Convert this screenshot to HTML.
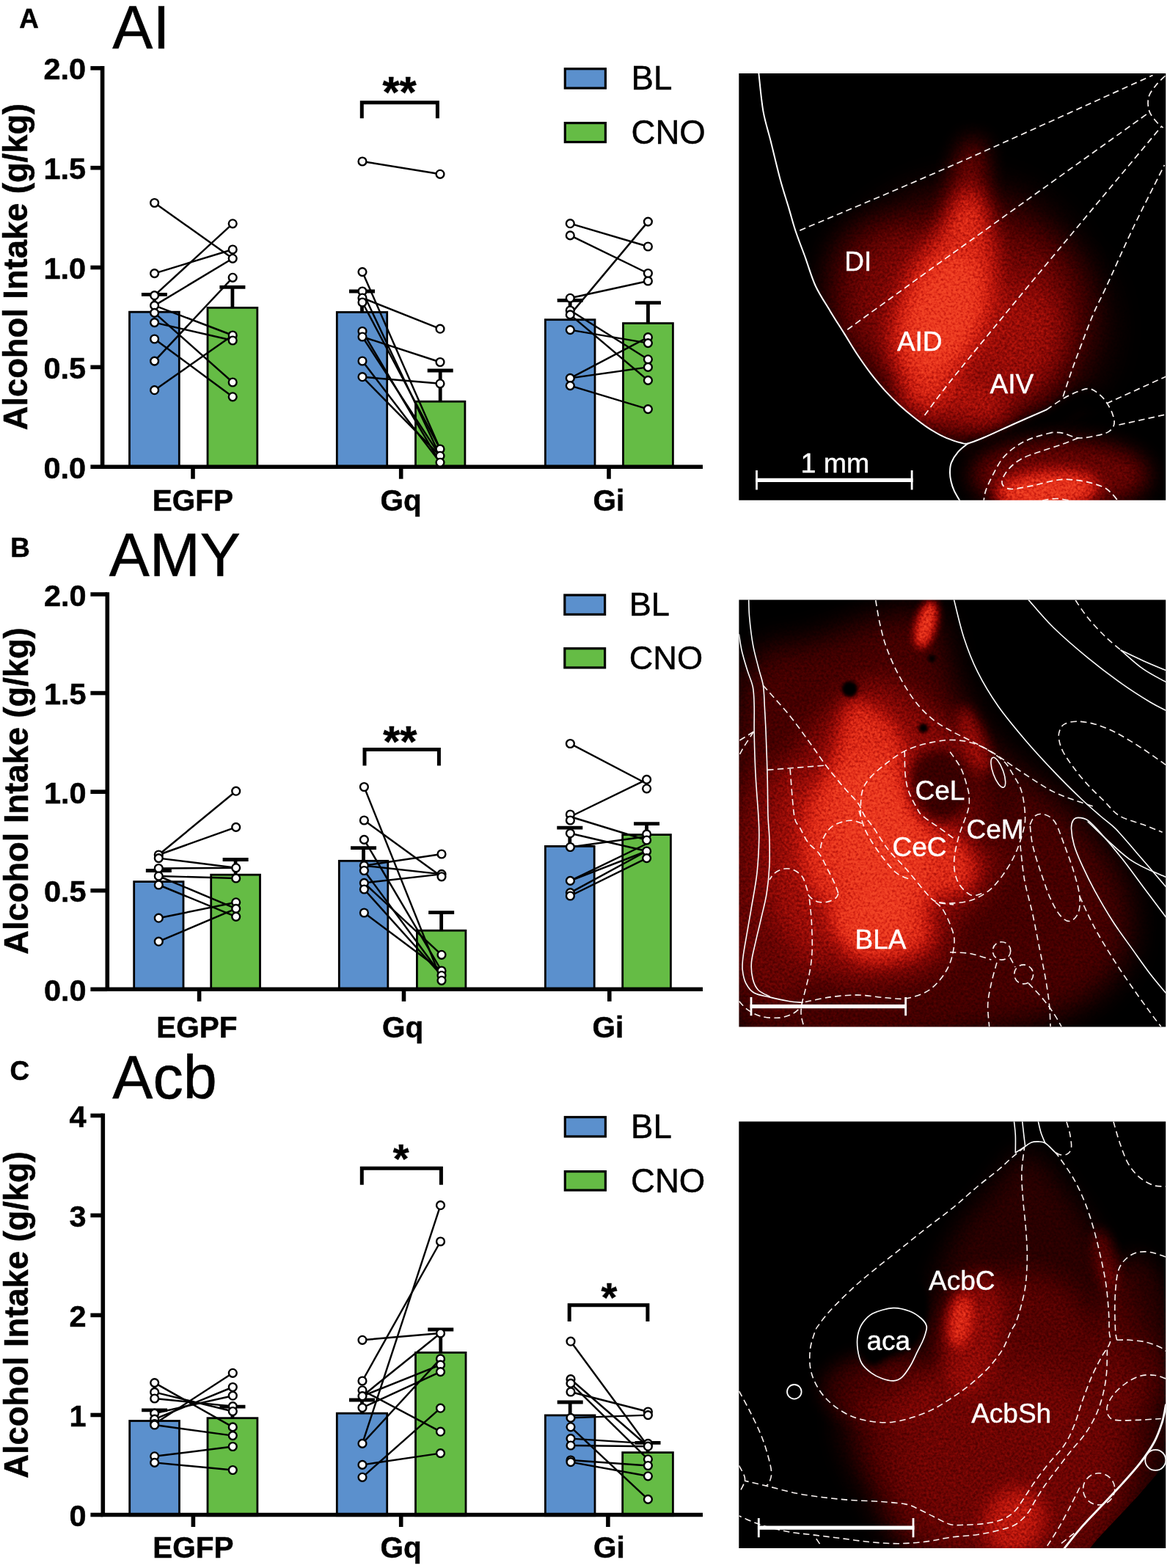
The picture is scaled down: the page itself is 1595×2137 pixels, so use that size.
<!DOCTYPE html>
<html lang="en"><head><meta charset="utf-8"><title>Figure</title>
<style>
html,body{margin:0;padding:0;background:#fff;}
body{width:1595px;height:2137px;overflow:hidden;}
svg{display:block;}
text{font-kerning:normal;}
</style></head><body>
<svg width="1595" height="2137" viewBox="0 0 1595 2137">
<rect width="1595" height="2137" fill="#fff"/>
<defs>
<filter id="bl2" x="-100%" y="-100%" width="300%" height="300%" color-interpolation-filters="sRGB"><feGaussianBlur stdDeviation="2"/></filter>
<filter id="bl4" x="-100%" y="-100%" width="300%" height="300%" color-interpolation-filters="sRGB"><feGaussianBlur stdDeviation="4"/></filter>
<filter id="bl6" x="-100%" y="-100%" width="300%" height="300%" color-interpolation-filters="sRGB"><feGaussianBlur stdDeviation="6"/></filter>
<filter id="bl8" x="-100%" y="-100%" width="300%" height="300%" color-interpolation-filters="sRGB"><feGaussianBlur stdDeviation="8"/></filter>
<filter id="bl10" x="-100%" y="-100%" width="300%" height="300%" color-interpolation-filters="sRGB"><feGaussianBlur stdDeviation="10"/></filter>
<filter id="bl12" x="-100%" y="-100%" width="300%" height="300%" color-interpolation-filters="sRGB"><feGaussianBlur stdDeviation="12"/></filter>
<filter id="bl15" x="-100%" y="-100%" width="300%" height="300%" color-interpolation-filters="sRGB"><feGaussianBlur stdDeviation="15"/></filter>
<filter id="bl18" x="-100%" y="-100%" width="300%" height="300%" color-interpolation-filters="sRGB"><feGaussianBlur stdDeviation="18"/></filter>
<filter id="bl22" x="-100%" y="-100%" width="300%" height="300%" color-interpolation-filters="sRGB"><feGaussianBlur stdDeviation="22"/></filter>
<filter id="bl26" x="-100%" y="-100%" width="300%" height="300%" color-interpolation-filters="sRGB"><feGaussianBlur stdDeviation="26"/></filter>
<filter id="bl30" x="-100%" y="-100%" width="300%" height="300%" color-interpolation-filters="sRGB"><feGaussianBlur stdDeviation="30"/></filter>
<filter id="cmap" x="0" y="0" width="100%" height="100%" color-interpolation-filters="sRGB">
<feTurbulence type="fractalNoise" baseFrequency="0.3" numOctaves="2" seed="7" result="n"/>
<feColorMatrix in="n" type="matrix" values="1.6 0 0 0 -0.3  1.6 0 0 0 -0.3  1.6 0 0 0 -0.3  0 0 0 0 1" result="na"/>
<feColorMatrix in="SourceGraphic" type="matrix" values="1 0 0 0 0  1 0 0 0 0  1 0 0 0 0  0 0 0 0 1" result="g"/>
<feComposite in="g" in2="na" operator="arithmetic" k1="0.6" k2="0.7" k3="0" k4="0" result="gg"/>
<feComponentTransfer in="gg">
<feFuncR type="table" tableValues="0 0.27 0.52 0.74 0.89 0.95"/>
<feFuncG type="table" tableValues="0 0.00 0.03 0.09 0.18 0.27"/>
<feFuncB type="table" tableValues="0 0.00 0.02 0.05 0.10 0.15"/>
<feFuncA type="linear" slope="0" intercept="1"/>
</feComponentTransfer>
</filter>
<clipPath id="cA"><rect x="1007.3" y="100" width="581.9" height="581.7"/></clipPath>
<clipPath id="cB"><rect x="1007.4" y="817.6" width="581.8" height="581.8"/></clipPath>
<clipPath id="cC"><rect x="1007.3" y="1528.6" width="581.9" height="581.4"/></clipPath>
<clipPath id="tA"><path d="M1034.4 100.3C1035.4 108.8 1037.7 136 1040.4 151.4C1043.1 166.8 1046.9 177.1 1050.8 192.8C1054.7 208.5 1059.8 230.4 1063.9 245.5C1068 260.6 1071.8 271.5 1075.2 283.1C1078.7 294.7 1080.8 303.7 1084.6 315C1088.4 326.3 1093.2 338.3 1097.8 350.8C1102.3 363.3 1106.2 377.8 1111.9 390C1117.6 402.2 1125.3 413.2 1131.7 423.9C1138.1 434.5 1144.2 443.9 1150.5 453.9C1156.8 463.9 1163 474.6 1169.3 484C1175.6 493.4 1181.8 502.2 1188.1 510.4C1194.4 518.5 1200.6 526 1206.9 532.9C1213.2 539.8 1219.4 545.9 1225.7 551.7C1232 557.5 1238.2 562.7 1244.5 567.7C1250.8 572.7 1257 577.6 1263.3 581.8C1269.6 586 1276 590 1282.1 593.1C1288.2 596.2 1295.3 598.9 1300 600.6C1304.7 602.3 1306.8 602.9 1310 603.5C1313.2 604.1 1320 602.4 1319.4 604.4C1318.8 606.4 1310 611.3 1306.3 615.7C1302.5 620.1 1298.8 626 1296.9 630.7C1295 635.4 1295.1 639.7 1295 643.9C1294.9 648.1 1295.6 651.9 1296.5 656C1297.4 660.1 1298.6 664 1300.6 668.3C1302.5 672.6 1306.9 679.7 1308.2 682L1600 690 L1600 90 Z"/></clipPath>
<clipPath id="tC"><path d="M1000 1520 L1600 1520 L1600 1925 L1611.3 1930.7 L1606.6 1953.3 L1595.4 1981.5 L1576.5 2009.7 L1552.1 2037.9 L1523.9 2068 L1495.7 2098.1 L1473.1 2126 L1000 2120 Z"/></clipPath>
</defs>
<g clip-path="url(#cA)">
<g filter="url(#cmap)"><rect x="1000" y="95" width="600" height="595" fill="#000"/>
<g clip-path="url(#tA)">
<ellipse cx="1306.5" cy="421.1" rx="164.2" ry="153.3" fill="#fff" opacity="0.25" filter="url(#bl30)" transform="rotate(-30 1306.5 421.1)"/>
<ellipse cx="1408.7" cy="446.6" rx="94.9" ry="109.5" fill="#fff" opacity="0.15" filter="url(#bl30)"/>
<ellipse cx="1319.3" cy="256.9" rx="23.7" ry="69.3" fill="#fff" opacity="0.3" filter="url(#bl15)" transform="rotate(8 1319.3 256.9)"/>
<ellipse cx="1211.6" cy="391.9" rx="80.3" ry="94.9" fill="#fff" opacity="0.15" filter="url(#bl22)" transform="rotate(-30 1211.6 391.9)"/>
<ellipse cx="1372.2" cy="483.1" rx="73" ry="94.9" fill="#fff" opacity="0.18" filter="url(#bl18)" transform="rotate(30 1372.2 483.1)"/>
<path d="M1328.4 260.6C1335.4 264.8 1343.6 284.9 1348.5 304.3C1353.3 323.8 1359.1 353.6 1357.6 377.3C1356.1 401 1347.3 426 1339.4 446.6C1331.4 467.3 1321.1 483.7 1310.2 501.4C1299.2 519 1285.8 547 1273.7 552.5C1261.5 557.9 1246.9 545.8 1237.2 534.2C1227.5 522.7 1218 500.8 1215.3 483.1C1212.6 465.5 1216.5 446.6 1220.8 428.4C1225 410.2 1231.4 391.9 1240.8 373.7C1250.3 355.4 1266.4 334.7 1277.3 318.9C1288.3 303.1 1298 288.5 1306.5 278.8C1315 269.1 1321.4 256.3 1328.4 260.6Z" fill="#fff" opacity="0.62" filter="url(#bl15)"/>
<ellipse cx="1286.4" cy="428.4" rx="42" ry="83.9" fill="#fff" opacity="0.62" filter="url(#bl12)" transform="rotate(20 1286.4 428.4)"/>
<ellipse cx="1299.2" cy="556.1" rx="80.3" ry="36.5" fill="#fff" opacity="0.3" filter="url(#bl15)" transform="rotate(10 1299.2 556.1)"/>
<path d="M1319.4 604.4C1323.2 603 1332 600.2 1342 596C1352 591.8 1365.5 585.3 1379.6 579C1393.7 572.7 1414.8 564.4 1426.7 558.3C1438.6 552.2 1443.3 546.7 1451.1 542.3C1458.9 537.9 1465.5 532.4 1473.7 532C1481.9 531.6 1495.6 538.7 1500 540" fill="none" stroke="#000" stroke-width="26" opacity="0.9" filter="url(#bl6)" transform="translate(4 13)"/>
<ellipse cx="1445.2" cy="647.3" rx="120.4" ry="47.4" fill="#fff" opacity="0.3" filter="url(#bl15)"/>
<ellipse cx="1426.9" cy="669.2" rx="69.3" ry="25.5" fill="#fff" opacity="0.8" filter="url(#bl10)" transform="rotate(-5 1426.9 669.2)"/>
</g></g>
<path d="M1034.4 100.3C1035.4 108.8 1037.7 136 1040.4 151.4C1043.1 166.8 1046.9 177.1 1050.8 192.8C1054.7 208.5 1059.8 230.4 1063.9 245.5C1068 260.6 1071.8 271.5 1075.2 283.1C1078.7 294.7 1080.8 303.7 1084.6 315C1088.4 326.3 1093.2 338.3 1097.8 350.8C1102.3 363.3 1106.2 377.8 1111.9 390C1117.6 402.2 1125.3 413.2 1131.7 423.9C1138.1 434.5 1144.2 443.9 1150.5 453.9C1156.8 463.9 1163 474.6 1169.3 484C1175.6 493.4 1181.8 502.2 1188.1 510.4C1194.4 518.5 1200.6 526 1206.9 532.9C1213.2 539.8 1219.4 545.9 1225.7 551.7C1232 557.5 1238.2 562.7 1244.5 567.7C1250.8 572.7 1257 577.6 1263.3 581.8C1269.6 586 1276 590 1282.1 593.1C1288.2 596.2 1295.3 598.9 1300 600.6C1304.7 602.3 1306.8 602.9 1310 603.5C1313.2 604.1 1314.1 605.6 1319.4 604.4C1324.7 603.1 1332 600.2 1342 596C1352 591.8 1365.5 585.3 1379.6 579C1393.7 572.7 1418.8 561.8 1426.7 558.3" fill="none" stroke="#fff" stroke-width="2" stroke-linecap="round"/>
<path d="M1319.4 604.4C1317.2 606.3 1310 611.3 1306.3 615.7C1302.5 620.1 1298.8 626 1296.9 630.7C1295 635.4 1295.1 639.7 1295 643.9C1294.9 648.1 1295.6 651.9 1296.5 656C1297.4 660.1 1298.6 664 1300.6 668.3C1302.5 672.6 1306.9 679.7 1308.2 682" fill="none" stroke="#fff" stroke-width="2" stroke-linecap="round"/>
<path d="M1090.3 314.1C1125.2 299.2 1219.5 260.1 1299.7 224.8C1379.9 189.5 1526.2 122.9 1571.5 102.5" fill="none" stroke="#fbf4f2" stroke-width="1.7" stroke-dasharray="8.5 5.2"/>
<path d="M1155.2 449.2C1168.8 439.3 1213.7 406.9 1237 390C1260.3 373.1 1239.9 387.6 1295 348C1350.1 308.4 1522.2 185 1567.7 152.4" fill="none" stroke="#fbf4f2" stroke-width="1.7" stroke-dasharray="8.5 5.2"/>
<path d="M1260.5 565.9C1267.1 557.3 1276.8 543 1300 514.1C1323.2 485.2 1352.3 449.7 1399.4 392.8C1446.5 335.9 1552.2 209.6 1582.8 173" fill="none" stroke="#fbf4f2" stroke-width="1.7" stroke-dasharray="8.5 5.2"/>
<path d="M1449.2 540.5C1451.1 534.9 1456.4 518.2 1460.5 506.6C1464.6 495 1468.7 484.1 1473.7 470.9C1478.7 457.7 1484.8 441.1 1490.6 427.6C1496.4 414.1 1499.4 409.6 1508.5 390C1517.6 370.4 1531.8 337.5 1545 310C1558.2 282.5 1580.4 239 1587.5 224.8" fill="none" stroke="#fbf4f2" stroke-width="1.7" stroke-dasharray="8.5 5.2"/>
<path d="M1588.4 103.5C1586.3 105.6 1579.8 111.2 1576 116C1572.2 120.8 1567.3 126.7 1565.8 132.6C1564.3 138.5 1564.9 145.8 1566.8 151.4C1568.7 157.1 1573.9 162.7 1577 166.5C1580.1 170.3 1584.2 172.8 1585.6 174" fill="none" stroke="#fbf4f2" stroke-width="1.7" stroke-dasharray="8.5 5.2"/>
<path d="M1426.7 558.3C1430.8 555.6 1443.3 546.7 1451.1 542.3C1458.9 537.9 1467.8 534 1473.7 532C1479.7 530 1482.4 529 1486.8 530.1C1491.2 531.2 1496.2 535.3 1500 538.6C1503.8 541.9 1506.6 545.5 1509.4 549.9C1512.2 554.3 1515.3 560.2 1516.9 564.9C1518.5 569.6 1519.7 574.2 1518.8 578.1C1517.9 582 1515.7 585.7 1511.3 588.4C1506.9 591.1 1499.4 592.7 1492.5 594.1C1485.6 595.5 1477.1 597.5 1469.9 596.9C1462.7 596.3 1455.2 591.5 1449.2 590.3C1443.2 589 1436.7 589.5 1434.2 589.4" fill="none" stroke="#fbf4f2" stroke-width="1.7" stroke-dasharray="8.5 5.2"/>
<path d="M1508.5 549.9 L1589.3 513.2" fill="none" stroke="#fbf4f2" stroke-width="1.7" stroke-dasharray="8.5 5.2"/>
<path d="M1525.4 579 L1589.3 564.9" fill="none" stroke="#fbf4f2" stroke-width="1.7" stroke-dasharray="8.5 5.2"/>
<path d="M1434.2 589.4C1429.8 590.6 1416 593.8 1407.8 596.9C1399.6 600 1392.2 603.5 1385.3 608.2C1378.4 612.9 1371.8 618.5 1366.5 625.1C1361.2 631.7 1357.1 640.5 1353.3 647.7C1349.5 654.9 1345.9 662.7 1343.9 668.4C1341.9 674.1 1341.6 679.7 1341.1 682" fill="none" stroke="#fbf4f2" stroke-width="1.7" stroke-dasharray="8.5 5.2"/>
<path d="M1469.9 596.9C1465.8 598.5 1454.3 603.2 1445.5 606.3C1436.7 609.4 1426 612.6 1417.2 615.7C1408.4 618.8 1399.7 621.3 1392.8 625.1C1385.9 628.9 1380.3 633.6 1375.9 638.3C1371.5 643 1367.8 649.2 1366.5 653.3C1365.2 657.4 1366.1 660.5 1368.3 662.7C1370.5 664.9 1373 666.6 1379.6 666.5C1386.2 666.4 1398.4 663.7 1407.8 661.8C1417.2 659.9 1428.2 656.6 1436.1 655.2C1443.9 653.8 1447.1 653 1454.9 653.3C1462.7 653.6 1474.6 655.2 1483.1 657.1C1491.5 659 1500 661.8 1505.6 664.6C1511.2 667.4 1513.9 671.1 1516.9 674C1519.9 676.9 1522.4 680.7 1523.5 682" fill="none" stroke="#fbf4f2" stroke-width="1.7" stroke-dasharray="8.5 5.2"/>
<path d="M1421 682C1424.2 681.6 1434 679.5 1440 679.5C1446 679.5 1454.2 681.6 1457 682" fill="none" stroke="#fbf4f2" stroke-width="1.7" stroke-dasharray="8.5 5.2"/>
<text x="1151.3" y="368.6" fill="#fff" stroke="#fff" stroke-width="0.4" font-family="'Liberation Sans', sans-serif" font-size="37">DI</text>
<text x="1222.9" y="478.4" fill="#fff" stroke="#fff" stroke-width="0.4" font-family="'Liberation Sans', sans-serif" font-size="37">AID</text>
<text x="1349.5" y="535.8" fill="#fff" stroke="#fff" stroke-width="0.4" font-family="'Liberation Sans', sans-serif" font-size="37">AIV</text>
<text x="1091.5" y="643.9" fill="#fff" stroke="#fff" stroke-width="0.4" font-family="'Liberation Sans', sans-serif" font-size="37.5">1 mm</text>
<path d="M1030.1 654.4 H1244.5" stroke="#fff" stroke-width="5.3"/><path d="M1031.5 641.1 V667.4 M1243.1 641.1 V667.4" stroke="#fff" stroke-width="2.8"/>
</g>
<g clip-path="url(#cB)">
<g filter="url(#cmap)"><rect x="1000" y="810" width="600" height="595" fill="#000"/>
<path d="M1007 945.7C1025.2 857.8 1073.9 891 1116.5 872.7C1159 854.5 1232 827.1 1262.4 836.2C1292.8 845.4 1283.7 897.1 1298.9 927.5C1314.1 957.9 1326.3 988.3 1353.6 1018.7C1381 1049.1 1432.7 1076.5 1463.1 1109.9C1493.5 1143.4 1527 1182.9 1536.1 1219.4C1545.2 1255.9 1545.2 1298.7 1517.8 1328.8C1490.5 1358.9 1457 1388.1 1371.9 1400C1286.7 1411.9 1067.8 1475.7 1007 1400C946.2 1324.3 988.8 1033.6 1007 945.7Z" fill="#fff" opacity="0.2" filter="url(#bl22)"/>
<ellipse cx="1061.7" cy="1201.1" rx="73" ry="164.2" fill="#fff" opacity="0.12" filter="url(#bl15)"/>
<path d="M1061.7 1073.4C1075.7 1041.2 1104.9 995.6 1127.4 971.3C1149.9 946.9 1174.2 928.7 1196.7 927.5C1219.2 926.3 1241.7 948.1 1262.4 964C1283.1 979.8 1305 998 1320.8 1022.3C1336.6 1046.7 1352.4 1080.1 1357.3 1109.9C1362.2 1139.7 1359.7 1176.8 1350 1201.1C1340.3 1225.5 1309.9 1237.6 1298.9 1255.9C1288 1274.1 1298.9 1297.2 1284.3 1310.6C1269.7 1324 1237.5 1333.1 1211.3 1336.1C1185.2 1339.2 1152.3 1342.2 1127.4 1328.8C1102.5 1315.5 1075.7 1283.2 1061.7 1255.9C1047.7 1228.5 1043.5 1195.1 1043.5 1164.6C1043.5 1134.2 1047.7 1105.7 1061.7 1073.4Z" fill="#fff" opacity="0.25" filter="url(#bl18)"/>
<path d="M1163.9 956.7C1174.2 956.7 1199.8 971.3 1211.3 982.2C1222.9 993.1 1230.8 1010.2 1233.2 1022.3C1235.7 1034.5 1224.7 1041.8 1225.9 1055.2C1227.2 1068.6 1233.2 1090.5 1240.5 1102.6C1247.8 1114.8 1258.2 1120.9 1269.7 1128.2C1281.3 1135.5 1300.1 1137.3 1309.9 1146.4C1319.6 1155.5 1326.9 1171.9 1328.1 1182.9C1329.3 1193.8 1324.5 1206 1317.2 1212.1C1309.9 1218.2 1293.4 1215.1 1284.3 1219.4C1275.2 1223.6 1264.9 1228.5 1262.4 1237.6C1260 1246.7 1272.8 1263.8 1269.7 1274.1C1266.7 1284.5 1257.6 1293.6 1244.2 1299.7C1230.8 1305.7 1204.6 1311.8 1189.4 1310.6C1174.2 1309.4 1162.7 1304.5 1153 1292.4C1143.2 1280.2 1138.4 1251 1131.1 1237.6C1123.8 1224.2 1115.3 1224.2 1109.2 1212.1C1103.1 1199.9 1095.8 1184.1 1094.6 1164.6C1093.4 1145.2 1095.2 1116.6 1101.9 1095.3C1108.6 1074 1126.8 1055.8 1134.7 1036.9C1142.6 1018.1 1144.4 995.6 1149.3 982.2C1154.2 968.8 1153.6 956.7 1163.9 956.7Z" fill="#fff" opacity="0.6" filter="url(#bl12)"/>
<ellipse cx="1196.7" cy="1139.1" rx="62" ry="109.5" fill="#fff" opacity="0.5" filter="url(#bl15)" transform="rotate(-10 1196.7 1139.1)"/>
<ellipse cx="1189.4" cy="1255.9" rx="54.7" ry="36.5" fill="#fff" opacity="0.45" filter="url(#bl12)"/>
<ellipse cx="1280.7" cy="1069.8" rx="42" ry="49.3" fill="#000" opacity="0.58" filter="url(#bl8)"/>
<ellipse cx="1346.3" cy="1102.6" rx="32.8" ry="58.4" fill="#000" opacity="0.35" filter="url(#bl12)"/>
<ellipse cx="1262.4" cy="850.8" rx="12.8" ry="32.8" fill="#fff" opacity="0.8" filter="url(#bl6)" transform="rotate(15 1262.4 850.8)"/>
<ellipse cx="1328.1" cy="1007.7" rx="14.6" ry="47.4" fill="#fff" opacity="0.3" filter="url(#bl8)" transform="rotate(-20 1328.1 1007.7)"/>
<ellipse cx="1158.4" cy="939.1" rx="10.9" ry="10.9" fill="#000" opacity="1" filter="url(#bl2)"/>
<ellipse cx="1258.8" cy="992.4" rx="6.6" ry="6.6" fill="#000" opacity="1" filter="url(#bl2)"/>
<ellipse cx="1270.5" cy="897.5" rx="5.1" ry="5.1" fill="#000" opacity="1" filter="url(#bl2)"/>
</g>
<path d="M1007.5 864.7C1008.1 868.5 1009.4 879.1 1011.3 887.2C1013.2 895.4 1016.3 905.5 1018.8 913.6C1021.3 921.8 1024.7 928 1026.3 936.1C1027.9 944.2 1027.9 951.8 1028.2 962.5C1028.5 973.2 1027.9 984.4 1028.2 1000.1C1028.5 1015.8 1029.1 1037.8 1030.1 1056.5C1031 1075.2 1033.1 1097.7 1033.9 1112C1034.7 1126.3 1035.1 1129.7 1034.8 1142.6C1034.5 1155.5 1033.7 1173.9 1032 1189.6C1030.3 1205.3 1026.8 1222.6 1024.4 1236.7C1022.1 1250.8 1019.8 1263.3 1017.9 1274.3C1016 1285.3 1014.2 1294.7 1013.2 1302.5C1012.2 1310.3 1011.6 1315 1012.2 1321.3C1012.8 1327.6 1014.2 1334.8 1016.9 1340.1C1019.6 1345.4 1022.9 1350.2 1028.2 1353.3C1033.5 1356.4 1041.1 1357 1048.9 1358.9C1056.7 1360.8 1067.7 1363.2 1075.2 1364.5C1082.7 1365.8 1090.9 1366.1 1094 1366.4" fill="none" stroke="#fff" stroke-width="1.6" stroke-linecap="round"/>
<path d="M1020.7 817.6C1020.9 821.4 1020.7 830.2 1021.6 840.2C1022.5 850.2 1024.2 866.2 1026.3 877.8C1028.3 889.4 1031.6 900.4 1033.9 909.8C1036.2 919.2 1039 925.5 1040.4 934.3C1041.8 943.1 1041.7 951.5 1042.3 962.5C1042.9 973.5 1043.6 984.4 1044.2 1000.1C1044.8 1015.8 1045.6 1037.8 1046.1 1056.5C1046.6 1075.2 1046.5 1097.7 1047 1112C1047.5 1126.3 1048.6 1131.2 1048.9 1142.6C1049.2 1154 1049.5 1167.7 1048.9 1180.2C1048.3 1192.7 1047 1205.9 1045.1 1217.8C1043.2 1229.7 1040.1 1240.7 1037.6 1251.7C1035.1 1262.7 1032.3 1273.7 1030.1 1283.7C1027.9 1293.7 1025 1303.4 1024.4 1311.9C1023.8 1320.4 1024.7 1328.2 1026.3 1334.5C1027.9 1340.8 1030.1 1345.6 1033.9 1349.5C1037.7 1353.4 1046.4 1356.6 1048.9 1358" fill="none" stroke="#fff" stroke-width="1.6" stroke-linecap="round"/>
<path d="M1300.6 817.6C1302.8 826.1 1308.5 852.1 1313.8 868.4C1319.1 884.7 1324.8 899.7 1332.6 915.4C1340.4 931.1 1349.8 946.8 1360.8 962.5C1371.8 978.2 1385.9 994.8 1398.4 1009.5C1411 1024.2 1423.5 1037.7 1436.1 1050.9C1448.6 1064.1 1463 1078.3 1473.7 1088.5C1484.4 1098.7 1492.2 1105.2 1500 1112C1507.8 1118.8 1512.5 1121.2 1520.7 1129.4C1528.9 1137.6 1537.5 1148.2 1548.9 1161.4C1560.3 1174.6 1582.6 1200.6 1589.3 1208.4" fill="none" stroke="#fff" stroke-width="1.6" stroke-linecap="round"/>
<path d="M1402.2 817.6C1407.8 823.9 1422.6 842.1 1436.1 855.3C1449.6 868.5 1467.4 883.8 1483.1 896.6C1498.8 909.5 1516 922.4 1530.1 932.4C1544.2 942.4 1557.8 950.8 1567.7 956.8C1577.6 962.8 1585.7 966.2 1589.3 968.1" fill="none" stroke="#fff" stroke-width="1.6" stroke-linecap="round"/>
<path d="M1528.2 886.3C1533.2 890.5 1548.1 904.5 1558.3 911.7C1568.5 918.9 1584.1 926.5 1589.3 929.5" fill="none" stroke="#fff" stroke-width="1.6" stroke-linecap="round"/>
<path d="M1528.2 886.3C1533.2 888.6 1548.1 895.8 1558.3 900.4C1568.5 905 1584.1 911.4 1589.3 913.6" fill="none" stroke="#fff" stroke-width="1.6" stroke-linecap="round"/>
<path d="M1589.3 1353.3C1585.7 1348.9 1575.4 1336.9 1567.7 1326.9C1560 1316.9 1551.8 1305 1543.3 1293.1C1534.8 1281.2 1525.4 1268.7 1516.9 1255.5C1508.4 1242.3 1499.4 1226.6 1492.5 1214.1C1485.6 1201.5 1480.3 1190.5 1475.6 1180.2C1470.9 1169.9 1466.8 1160.5 1464.3 1152C1461.8 1143.5 1460.7 1135.1 1460.5 1129.4C1460.3 1123.7 1461.4 1120.5 1463 1118C1464.6 1115.5 1466.6 1114.4 1469.9 1114.4C1473.2 1114.4 1477.8 1114.4 1483.1 1118.2C1488.4 1122 1494.1 1128.2 1501.9 1137C1509.7 1145.8 1520.7 1158.9 1530.1 1170.8C1539.5 1182.7 1548.4 1195.2 1558.3 1208.4C1568.2 1221.6 1584.1 1242.9 1589.3 1249.8" fill="none" stroke="#fff" stroke-width="1.6" stroke-linecap="round"/>
<path d="M1483.1 1120C1492.5 1128.5 1521.8 1158.2 1539.5 1170.8C1557.2 1183.3 1581 1191.2 1589.3 1195.3" fill="none" stroke="#fff" stroke-width="1.6" stroke-linecap="round"/>
<ellipse cx="1360.8" cy="1052.7" rx="7" ry="21.6" fill="none" stroke="#fff" stroke-width="1.6" transform="rotate(-20 1360.8 1052.7)"/>
<path d="M1040.4 934.3C1046.2 940.9 1064.7 960.9 1075.2 973.7C1085.7 986.6 1094.9 999.8 1103.4 1011.4C1111.9 1023 1118.2 1033 1126 1043.3C1133.8 1053.6 1143.3 1064.9 1150.5 1073.4C1157.7 1081.9 1164.6 1087.7 1169.3 1094.1C1174 1100.5 1175 1106.1 1178.7 1112C1182.5 1117.9 1186.5 1121.8 1191.8 1129.4C1197.1 1137 1203.4 1148.6 1210.6 1157.7C1217.8 1166.8 1226.3 1174 1235.1 1184C1243.9 1194 1256.4 1210.3 1263.3 1217.8C1270.2 1225.3 1270.4 1226.6 1276.5 1229.1C1282.6 1231.6 1296.1 1232.3 1300 1232.9" fill="none" stroke="#fbf4f2" stroke-width="1.6" stroke-dasharray="8.5 5.2"/>
<path d="M1171.1 1105C1172.7 1109.7 1175.8 1123.5 1180.5 1133.2C1185.2 1142.9 1192.5 1153.9 1199.4 1163.3C1206.3 1172.7 1214.7 1183.6 1221.9 1189.6C1229.1 1195.5 1239.1 1197.4 1242.6 1199" fill="none" stroke="#fbf4f2" stroke-width="1.6" stroke-dasharray="8.5 5.2"/>
<path d="M1193.7 818C1194.7 823.3 1196.9 838.7 1199.4 849.6C1201.9 860.5 1204.4 871.6 1208.8 883.5C1213.2 895.4 1219.1 908.9 1225.7 921.1C1232.3 933.3 1240.5 946.8 1248.3 956.8C1256.1 966.8 1264.3 974.5 1272.7 981.3C1281.1 988 1290.4 992.6 1298.8 997.3C1307.2 1002 1314.4 1005 1323.2 1009.5C1332 1014 1342 1018.9 1351.4 1024.5C1360.8 1030.1 1370.2 1037 1379.6 1043.3C1389 1049.6 1398.4 1056.1 1407.8 1062.1C1417.2 1068.1 1426.7 1074.4 1436.1 1079.1C1445.5 1083.8 1454.9 1086.9 1464.3 1090.3C1473.7 1093.7 1487.8 1098.1 1492.5 1099.7" fill="none" stroke="#fbf4f2" stroke-width="1.6" stroke-dasharray="8.5 5.2"/>
<path d="M1046.1 1049.4 L1126 1043" fill="none" stroke="#fbf4f2" stroke-width="1.6" stroke-dasharray="8.5 5.2"/>
<path d="M1077.1 1048C1078 1058.7 1080.6 1098.7 1082.8 1112C1085 1125.3 1087.2 1121.5 1090.3 1127.6C1093.4 1133.6 1097.2 1142.3 1101.6 1148.3C1106 1154.2 1112.2 1157.3 1116.6 1163.3C1121 1169.2 1124.5 1177.4 1127.9 1184C1131.4 1190.6 1134.8 1197.2 1137.3 1202.8C1139.8 1208.4 1142 1215.3 1142.9 1217.8" fill="none" stroke="#fbf4f2" stroke-width="1.6" stroke-dasharray="8.5 5.2"/>
<path d="M1338.3 1217.8C1335.8 1218.1 1328.5 1222.2 1323.2 1219.7C1317.9 1217.2 1310.1 1210 1306.3 1202.8C1302.5 1195.6 1300.6 1186.5 1300.6 1176.5C1300.6 1166.5 1303.2 1154.5 1306.3 1142.6C1309.4 1130.7 1316.9 1113.8 1319.4 1105C1321.9 1096.2 1321.3 1095 1321.3 1090C1321.3 1085 1321.3 1082.5 1319.4 1075.3C1317.5 1068.1 1314.1 1055.6 1310 1047.1C1305.9 1038.6 1297.5 1028.3 1295 1024.5" fill="none" stroke="#fbf4f2" stroke-width="1.6" stroke-dasharray="8.5 5.2"/>
<path d="M1173 1112C1173.3 1106.8 1173 1089.3 1174.9 1081C1176.8 1072.7 1179 1068.7 1184.3 1062.1C1189.6 1055.5 1198.8 1047.9 1206.9 1041.5C1215.1 1035.1 1223.8 1028.3 1233.2 1023.6C1242.6 1018.9 1252.4 1015.7 1263.3 1013.2C1274.2 1010.7 1287.2 1008.2 1298.8 1008.5C1310.3 1008.8 1321.3 1010.6 1332.6 1015.1C1343.9 1019.6 1358.3 1028.9 1366.5 1035.8C1374.7 1042.7 1377.1 1049.3 1381.5 1056.5C1385.9 1063.7 1390.1 1069.8 1392.8 1079.1C1395.5 1088.3 1397.2 1103 1397.5 1112C1397.8 1121 1397 1124.3 1394.7 1133.2C1392.4 1142.1 1388.1 1155.2 1383.4 1165.2C1378.7 1175.2 1372.5 1185.2 1366.5 1193.4C1360.5 1201.6 1354.9 1208.5 1347.7 1214.1C1340.5 1219.7 1332 1224.4 1323.2 1227.2C1314.4 1230 1303.1 1230.7 1295 1231C1286.9 1231.3 1278 1229.4 1274.6 1229.1" fill="none" stroke="#fbf4f2" stroke-width="1.6" stroke-dasharray="8.5 5.2"/>
<path d="M1233.2 1023.6C1233.4 1029.1 1233.2 1047.2 1234.2 1056.5C1235.2 1065.8 1236.2 1071.6 1238.9 1079.1C1241.6 1086.6 1247 1096.1 1250.1 1101.6C1253.2 1107.1 1252.4 1107.4 1257.7 1112C1263 1116.6 1275 1124.3 1282.1 1129.4C1289.1 1134.5 1297 1140.4 1300 1142.6" fill="none" stroke="#fbf4f2" stroke-width="1.6" stroke-dasharray="8.5 5.2"/>
<path d="M1027.3 997.3 L1007.5 1009.5" fill="none" stroke="#fbf4f2" stroke-width="1.6" stroke-dasharray="8.5 5.2"/>
<path d="M1027.3 997.3C1025.1 1000.8 1017.3 1012.5 1014 1018C1010.7 1023.5 1008.6 1028 1007.5 1030" fill="none" stroke="#fbf4f2" stroke-width="1.6" stroke-dasharray="8.5 5.2"/>
<path d="M1174.9 1121.9C1172.1 1121.3 1164.6 1117.6 1158 1118.2C1151.4 1118.8 1141.4 1121.6 1135.4 1125.7C1129.4 1129.8 1125.2 1136.6 1122.2 1142.6C1119.2 1148.5 1118.3 1158.3 1117.5 1161.4" fill="none" stroke="#fbf4f2" stroke-width="1.6" stroke-dasharray="8.5 5.2"/>
<path d="M1142.9 1217.8C1142.3 1218.8 1141.7 1222.1 1139.2 1224C1136.7 1225.9 1132 1228.2 1127.9 1229.1C1123.8 1229.9 1118.8 1230.3 1114.7 1229.1C1110.6 1227.8 1105.9 1224.7 1103.4 1221.6C1100.9 1218.5 1101.3 1214.7 1099.7 1210.3C1098.1 1205.9 1096.8 1199.4 1094 1195.3C1091.2 1191.2 1086.9 1187.8 1082.8 1185.9C1078.7 1184 1074 1183.4 1069.6 1184C1065.2 1184.6 1059.9 1187.1 1056.4 1189.6C1053 1192.1 1050.2 1197.4 1048.9 1199" fill="none" stroke="#fbf4f2" stroke-width="1.6" stroke-dasharray="8.5 5.2"/>
<path d="M1103.4 1225.4C1103.9 1230.4 1105.7 1244.2 1106.3 1255.5C1106.9 1266.8 1107.5 1282.1 1107.2 1293.1C1106.9 1304.1 1106 1311.9 1104.4 1321.3C1102.8 1330.7 1099.7 1341.7 1097.8 1349.5C1095.9 1357.3 1094 1362.6 1093.1 1368.3C1092.2 1374 1091.7 1378.2 1092.2 1383.4C1092.7 1388.6 1095.3 1396.7 1095.9 1399.4" fill="none" stroke="#fbf4f2" stroke-width="1.6" stroke-dasharray="8.5 5.2"/>
<path d="M1097.8 1365.5C1103.5 1364.4 1119.8 1360.5 1131.7 1358.9C1143.6 1357.3 1156.8 1355.9 1169.3 1356.1C1181.8 1356.2 1195.9 1359 1206.9 1359.8C1217.9 1360.6 1225.7 1362.2 1235.1 1360.8C1244.5 1359.4 1255.5 1355.8 1263.3 1351.4C1271.1 1347 1276.8 1341.1 1282.1 1334.5C1287.4 1327.9 1292.1 1320.4 1295.3 1311.9C1298.5 1303.4 1300.7 1291.5 1301 1283.7C1301.3 1275.9 1299.7 1272.1 1297.2 1264.9C1294.7 1257.7 1289.7 1246.4 1285.9 1240.4C1282.1 1234.4 1276.5 1231 1274.6 1229.1" fill="none" stroke="#fbf4f2" stroke-width="1.6" stroke-dasharray="8.5 5.2"/>
<path d="M1007.5 1364.5C1009.4 1366.4 1013.8 1372.3 1018.8 1375.8C1023.8 1379.2 1030.4 1383.3 1037.6 1385.2C1044.8 1387.1 1054.9 1387.7 1062.1 1387.1C1069.3 1386.5 1075.9 1384 1080.9 1381.5C1085.9 1379 1090.3 1373.7 1092.2 1372.1" fill="none" stroke="#fbf4f2" stroke-width="1.6" stroke-dasharray="8.5 5.2"/>
<path d="M1466.1 818C1468.9 822 1476.5 834 1483.1 842.1C1489.7 850.2 1498.1 859.1 1505.6 866.5C1513.1 873.9 1524.4 883 1528.2 886.3" fill="none" stroke="#fbf4f2" stroke-width="1.6" stroke-dasharray="8.5 5.2"/>
<path d="M1589.3 1042.4C1584.1 1038.8 1569.7 1028.2 1558.3 1020.8C1546.9 1013.4 1531.7 1003.9 1520.7 998.2C1509.7 992.6 1501.3 989.4 1492.5 986.9C1483.7 984.4 1474.9 983.2 1468 983.2C1461.1 983.2 1455 984.8 1451.1 986.9C1447.2 989 1445.8 992.5 1444.5 996C1443.2 999.5 1442.8 1002.9 1443.6 1007.6C1444.4 1012.4 1445.8 1017.9 1449.2 1024.5C1452.7 1031.1 1458.7 1039.6 1464.3 1047.1C1469.9 1054.6 1476.2 1062.2 1483.1 1069.7C1490 1077.2 1498.4 1085.2 1505.6 1092.2C1512.8 1099.2 1517.5 1106.7 1526.3 1112C1535.1 1117.3 1548.6 1120.1 1558.3 1123.8C1568 1127.5 1580.2 1132.5 1584.6 1134.2" fill="none" stroke="#fbf4f2" stroke-width="1.6" stroke-dasharray="8.5 5.2"/>
<path d="M1390.9 1152C1391.9 1159.8 1393.8 1183.3 1396.6 1199C1399.4 1214.7 1404.4 1230.4 1407.8 1246.1C1411.2 1261.8 1414.4 1279 1417.2 1293.1C1420 1307.2 1422.6 1318.2 1424.8 1330.7C1427 1343.2 1429.2 1356.9 1430.4 1368.3C1431.6 1379.7 1431.7 1393.9 1432 1399" fill="none" stroke="#fbf4f2" stroke-width="1.6" stroke-dasharray="8.5 5.2"/>
<path d="M1404.1 1123.8C1405.2 1121.8 1407.9 1114.3 1411 1112C1414.1 1109.7 1418.4 1108.4 1422.9 1109.7C1427.4 1111 1433.2 1113 1437.9 1120C1442.6 1127 1446.7 1140.4 1451.1 1152C1455.5 1163.6 1460.8 1178 1464.3 1189.6C1467.8 1201.2 1470.9 1212.5 1471.8 1221.6C1472.7 1230.7 1472.1 1238.5 1469.9 1244.2C1467.7 1249.9 1462.7 1254.9 1458.6 1255.5C1454.5 1256.1 1449.9 1252.9 1445.5 1247.9C1441.1 1242.9 1436.7 1235.1 1432.3 1225.4C1427.9 1215.7 1423.2 1201.8 1419.1 1189.6C1415 1177.4 1410.3 1163 1407.8 1152C1405.3 1141 1404.7 1128.5 1404.1 1123.8" fill="none" stroke="#fbf4f2" stroke-width="1.6" stroke-dasharray="8.5 5.2"/>
<path d="M1471.8 1221.6C1475.2 1228.8 1484.3 1249.9 1492.5 1264.9C1500.7 1280 1511.3 1297.2 1520.7 1311.9C1530.1 1326.6 1540.1 1340.8 1548.9 1353.3C1557.7 1365.8 1567.8 1379.5 1573.4 1387.1C1579.1 1394.7 1581.2 1397 1582.8 1399" fill="none" stroke="#fbf4f2" stroke-width="1.6" stroke-dasharray="8.5 5.2"/>
<path d="M1295 1297.8C1299.7 1298.1 1313.8 1298 1323.2 1299.7C1332.6 1301.4 1346.7 1306.7 1351.4 1308.1" fill="none" stroke="#fbf4f2" stroke-width="1.6" stroke-dasharray="8.5 5.2"/>
<path d="M1358.9 1311.9C1357.7 1316.6 1353.4 1330.7 1351.4 1340.1C1349.4 1349.5 1347.2 1358.5 1346.7 1368.3C1346.2 1378.1 1348.3 1393.9 1348.6 1399" fill="none" stroke="#fbf4f2" stroke-width="1.6" stroke-dasharray="8.5 5.2"/>
<path d="M1402.2 1340.1C1405.7 1343.9 1417 1355.5 1422.9 1362.7C1428.9 1369.9 1433.9 1377.4 1437.9 1383.4C1441.9 1389.5 1445.5 1396.4 1447 1399" fill="none" stroke="#fbf4f2" stroke-width="1.6" stroke-dasharray="8.5 5.2"/>
<path d="M1377 1305 L1384 1318" fill="none" stroke="#fbf4f2" stroke-width="1.6" stroke-dasharray="8.5 5.2"/>
<circle cx="1365.5" cy="1295.9" r="12.2" fill="none" stroke="#fbf4f2" stroke-width="1.6" stroke-dasharray="8.5 5.2"/>
<circle cx="1395.6" cy="1327.9" r="13" fill="none" stroke="#fbf4f2" stroke-width="1.6" stroke-dasharray="8.5 5.2"/>
<text x="1247.5" y="1090.3" fill="#fff" stroke="#fff" stroke-width="0.4" font-family="'Liberation Sans', sans-serif" font-size="37">CeL</text>
<text x="1216.5" y="1166.5" fill="#fff" stroke="#fff" stroke-width="0.4" font-family="'Liberation Sans', sans-serif" font-size="37">CeC</text>
<text x="1317.5" y="1142.6" fill="#fff" stroke="#fff" stroke-width="0.4" font-family="'Liberation Sans', sans-serif" font-size="37">CeM</text>
<text x="1165.5" y="1293.1" fill="#fff" stroke="#fff" stroke-width="0.4" font-family="'Liberation Sans', sans-serif" font-size="37">BLA</text>
<path d="M1022.6 1371.7 H1236" stroke="#fff" stroke-width="5.3"/><path d="M1024 1358.9 V1384.3 M1234.6 1358.9 V1384.3" stroke="#fff" stroke-width="2.8"/>
</g>
<g clip-path="url(#cC)">
<g filter="url(#cmap)"><rect x="1000" y="1520" width="600" height="595" fill="#000"/>
<g clip-path="url(#tC)">
<path d="M1401.1 1571.8C1419.3 1574.8 1443.7 1611.3 1463.1 1637.5C1482.6 1663.6 1502.6 1698.3 1517.8 1728.7C1533.1 1759.1 1542.5 1798.6 1554.3 1819.9C1566.2 1841.2 1581.7 1832.1 1589 1856.4C1596.3 1880.7 1610 1920.3 1598.1 1965.9C1586.3 2011.5 1573.8 2102.7 1517.8 2130.1C1461.9 2157.4 1318.4 2145.3 1262.4 2130.1C1206.5 2114.9 1201.6 2069.3 1182.1 2038.8C1162.7 2008.4 1149.3 1975 1145.7 1947.6C1142 1920.3 1149.3 1889.8 1160.3 1874.6C1171.2 1859.4 1194.3 1871.6 1211.3 1856.4C1228.4 1841.2 1247.8 1810.8 1262.4 1783.4C1277 1756.1 1283.7 1719.6 1298.9 1692.2C1314.1 1664.8 1336.6 1639.3 1353.6 1619.2C1370.7 1599.2 1382.8 1568.7 1401.1 1571.8Z" fill="#fff" opacity="0.12" filter="url(#bl18)"/>
<path d="M1335.4 1746.9C1360.9 1731.7 1414.5 1728.7 1444.9 1746.9C1475.3 1765.2 1499.6 1819.9 1517.8 1856.4C1536.1 1892.9 1560.4 1920.3 1554.3 1965.9C1548.3 2011.5 1527 2102.7 1481.4 2130.1C1435.7 2157.4 1328.1 2148.3 1280.7 2130.1C1233.2 2111.8 1213.2 2054.1 1196.7 2020.6C1180.3 1987.2 1174.2 1950.7 1182.1 1929.4C1190.1 1908.1 1225.9 1908.1 1244.2 1892.9C1262.4 1877.7 1276.4 1862.5 1291.6 1838.2C1306.8 1813.8 1309.9 1762.1 1335.4 1746.9Z" fill="#fff" opacity="0.15" filter="url(#bl18)"/>
<ellipse cx="1371.9" cy="1984.1" rx="153.3" ry="127.7" fill="#fff" opacity="0.1" filter="url(#bl26)"/>
<ellipse cx="1547" cy="1819.9" rx="47.4" ry="109.5" fill="#fff" opacity="0.12" filter="url(#bl15)"/>
<ellipse cx="1309.1" cy="1799.8" rx="15.3" ry="36.5" fill="#fff" opacity="0.62" filter="url(#bl8)" transform="rotate(8 1309.1 1799.8)"/>
<ellipse cx="1324.5" cy="1816.3" rx="40.1" ry="83.9" fill="#fff" opacity="0.22" filter="url(#bl12)" transform="rotate(10 1324.5 1816.3)"/>
<ellipse cx="1382.8" cy="2075.3" rx="40.1" ry="47.4" fill="#fff" opacity="0.4" filter="url(#bl12)" transform="rotate(20 1382.8 2075.3)"/>
<ellipse cx="1506.9" cy="1717.7" rx="14.6" ry="43.8" fill="#fff" opacity="0.2" filter="url(#bl8)" transform="rotate(-12 1506.9 1717.7)"/>
<ellipse cx="1198.2" cy="1892.5" rx="80.3" ry="47.4" fill="#fff" opacity="0.12" filter="url(#bl12)"/>
<path d="M1192 1761.9C1199.5 1754.3 1212.7 1750 1223 1747.7C1233.4 1745.3 1247.1 1744.3 1254 1747.7C1261 1751.1 1262.8 1760.5 1264.6 1768.1C1266.4 1775.7 1265.6 1785.3 1264.6 1793.3C1263.6 1801.2 1261.5 1809 1258.4 1815.9C1255.3 1822.8 1253.6 1829 1246 1834.5C1238.4 1840 1221.8 1844.6 1212.8 1849.1C1203.8 1853.6 1197.8 1860.8 1192 1861.5C1186.2 1862.2 1181.5 1858.7 1177.8 1853.1C1174 1847.6 1169.4 1838.3 1169.4 1828.3C1169.4 1818.3 1174 1804.3 1177.8 1793.3C1181.5 1782.2 1184.5 1769.5 1192 1761.9Z" fill="#000" opacity="1" filter="url(#bl4)"/>
</g></g>
<path d="M1589.3 1914.7C1588.5 1918.5 1587.2 1928.8 1584.6 1937.3C1581.9 1945.8 1578.4 1956.1 1573.4 1965.5C1568.4 1974.9 1561.7 1984.3 1554.5 1993.7C1547.3 2003.1 1538.9 2012.2 1530.1 2021.9C1521.3 2031.6 1511.3 2042 1501.9 2052C1492.5 2062 1482.2 2072.4 1473.7 2082.1C1465.2 2091.8 1454.9 2105.3 1451.1 2110" fill="none" stroke="#fff" stroke-width="2.8" stroke-linecap="round"/>
<circle cx="1575.2" cy="1989.9" r="14" fill="none" stroke="#fff" stroke-width="1.8"/>
<circle cx="1082.8" cy="1896.8" r="9.8" fill="none" stroke="#fff" stroke-width="1.8"/>
<path d="M1217.6 1782.6C1225.9 1782.1 1233.6 1784.6 1240 1787C1246.4 1789.4 1252.2 1793.6 1256 1797C1259.8 1800.4 1262.2 1803.8 1263.1 1807.3C1264 1810.8 1262.3 1814.5 1261.4 1818C1260.5 1821.5 1259.6 1823.8 1257.7 1828C1255.8 1832.2 1252.9 1837.5 1250.1 1843.2C1247.3 1848.9 1244.2 1856.3 1240.7 1862C1237.2 1867.7 1233.2 1873.8 1229.4 1877.1C1225.7 1880.4 1222.6 1881.5 1218.2 1881.8C1213.8 1882.1 1208.1 1880.7 1203.1 1879C1198.1 1877.3 1192.8 1874.9 1188.1 1871.4C1183.4 1868 1178 1863.6 1174.9 1858.3C1171.8 1853 1170.2 1845.9 1169.3 1839.5C1168.4 1833.1 1168.2 1826.1 1169.3 1820C1170.4 1813.9 1172.5 1808 1176 1803C1179.5 1798 1183.1 1793.4 1190 1790C1196.9 1786.6 1209.3 1783.1 1217.6 1782.6Z" fill="none" stroke="#fff" stroke-width="1.7" stroke-linecap="round"/>
<path d="M1382.5 1528.6C1382.8 1531.7 1384 1540.5 1384.3 1547.4C1384.6 1554.3 1384.3 1566.2 1384.3 1570" fill="none" stroke="#fff" stroke-width="1.6" stroke-linecap="round"/>
<path d="M1393.7 1528.6C1394 1531.4 1395 1540.1 1395.6 1545.6C1396.2 1551.1 1397.2 1558.9 1397.5 1561.6" fill="none" stroke="#fff" stroke-width="1.6" stroke-linecap="round"/>
<path d="M1415.4 1528.6C1416 1531.1 1417.5 1538.8 1419.1 1543.7C1420.7 1548.6 1423.8 1555.5 1424.8 1557.8" fill="none" stroke="#fff" stroke-width="1.6" stroke-linecap="round"/>
<path d="M1384.3 1571C1386.5 1569.6 1393.9 1564.8 1397.5 1562.5C1401.1 1560.2 1403 1558 1406 1556.9C1409 1555.8 1412.3 1555.8 1415.4 1555.9C1418.5 1556.1 1421 1555.5 1424.8 1557.8C1428.5 1560.1 1435.7 1568 1437.9 1570" fill="none" stroke="#fff" stroke-width="1.6" stroke-linecap="round"/>
<path d="M1396.6 1563.4C1393.8 1565.8 1385.6 1572.3 1379.6 1577.5C1373.6 1582.7 1368.6 1587.9 1360.8 1594.5C1353 1601.1 1342.7 1608.5 1332.6 1617C1322.5 1625.5 1311.5 1635.9 1300 1645.3C1288.5 1654.7 1275.7 1663.8 1263.3 1673.5C1250.9 1683.2 1238.2 1693.6 1225.7 1703.6C1213.2 1713.6 1199.1 1724.5 1188.1 1733.6C1177.1 1742.7 1169.3 1749.3 1159.9 1758.1C1150.5 1766.9 1138.9 1778.5 1131.7 1786.3C1124.5 1794.1 1120 1800.3 1116.6 1805.1C1113.1 1809.9 1113 1809.3 1111 1815C1109 1820.7 1105.4 1830.7 1104.4 1839.5C1103.5 1848.3 1103.3 1858.6 1105.3 1867.7C1107.3 1876.8 1111.6 1886.2 1116.6 1894C1121.6 1901.8 1128.2 1908.8 1135.4 1914.7C1142.6 1920.7 1151.1 1925.9 1159.9 1929.7C1168.7 1933.5 1178.7 1935.9 1188.1 1937.3C1197.5 1938.7 1206.9 1939.2 1216.3 1938.2C1225.7 1937.2 1235.1 1934.6 1244.5 1931.6C1253.9 1928.6 1263.5 1925 1272.7 1920.3C1282 1915.6 1291.6 1909 1300 1903.4C1308.4 1897.8 1315.2 1893.1 1323.2 1886.5C1331.2 1879.9 1340.5 1871.7 1347.7 1863.9C1354.9 1856.1 1361.5 1847.7 1366.5 1839.5C1371.5 1831.3 1374.7 1821.3 1377.8 1815C1380.9 1808.7 1382.8 1807.8 1385.3 1801.4C1387.8 1795.1 1390.6 1785.7 1392.8 1776.9C1395 1768.1 1397.2 1759.7 1398.4 1748.7C1399.7 1737.7 1400.3 1723.6 1400.3 1711.1C1400.3 1698.6 1399.3 1686 1398.4 1673.5C1397.5 1661 1395.6 1648.3 1394.7 1635.8C1393.8 1623.2 1392.5 1610.3 1392.8 1598.2C1393.1 1586.1 1396 1569.2 1396.6 1563.4" fill="none" stroke="#fbf4f2" stroke-width="1.6" stroke-dasharray="8.5 5.2"/>
<path d="M1437.9 1570C1439.2 1571.6 1441.1 1573.1 1445.5 1579.4C1449.9 1585.7 1458.7 1597.6 1464.3 1607.6C1469.9 1617.6 1474.9 1628.6 1479.3 1639.6C1483.7 1650.6 1487.1 1661.6 1490.6 1673.5C1494 1685.4 1497.2 1698.6 1500 1711.1C1502.8 1723.6 1505.6 1736.2 1507.5 1748.7C1509.4 1761.2 1510.5 1775.2 1511.3 1786.3C1512.1 1797.3 1511.9 1807.7 1512.2 1815C1512.5 1822.3 1514.9 1824.3 1513.2 1830C1511.5 1835.7 1506 1841.4 1501.9 1848.9C1497.8 1856.4 1493.1 1865.2 1488.7 1875.2C1484.3 1885.2 1479.7 1897.7 1475.6 1909C1471.5 1920.3 1468.4 1932.9 1464.3 1942.9C1460.2 1952.9 1456.8 1960.7 1451.1 1969.2C1445.4 1977.7 1437 1985.6 1430.4 1993.7C1423.8 2001.8 1417.2 2010.3 1411.6 2018.1C1406 2025.9 1401.3 2033.8 1396.6 2040.7C1391.9 2047.6 1388.4 2054.5 1383.4 2059.5C1378.4 2064.5 1373.4 2068 1366.5 2070.8C1359.6 2073.6 1350.8 2075.2 1342 2076.4C1333.2 2077.7 1321.6 2078.1 1313.8 2078.3C1306 2078.5 1301.8 2079.3 1295 2077.4C1288.2 2075.5 1279.5 2070.3 1272.7 2067C1265.9 2063.7 1260.2 2060.4 1253.9 2057.6C1247.6 2054.8 1244.5 2052 1235.1 2050.1C1225.7 2048.2 1210 2047.2 1197.5 2046.3C1185 2045.4 1172.5 2045.4 1159.9 2044.5C1147.4 2043.6 1134.8 2042.3 1122.2 2040.7C1109.7 2039.1 1097.1 2037.5 1084.6 2035C1072.1 2032.5 1058.6 2028.4 1047 2025.6C1035.4 2022.8 1020.3 2019.3 1015 2018.1" fill="none" stroke="#fbf4f2" stroke-width="1.6" stroke-dasharray="8.5 5.2"/>
<path d="M1509.4 1839.5C1509.2 1844.8 1509.4 1861.4 1508.5 1871.4C1507.6 1881.4 1506.1 1890.2 1503.8 1899.6C1501.5 1909 1498.5 1918.7 1494.4 1927.8C1490.3 1936.9 1485 1946 1479.3 1954.2C1473.6 1962.4 1466.8 1968.9 1460.5 1976.7C1454.2 1984.5 1447.7 1993.4 1441.7 2001.2C1435.8 2009 1429.8 2016.6 1424.8 2023.8C1419.8 2031 1415.7 2037.9 1411.6 2044.5C1407.5 2051.1 1405 2057.7 1400.3 2063.3C1395.6 2068.9 1390 2074.6 1383.4 2078.3C1376.8 2082.1 1369.3 2083.6 1360.8 2085.8C1352.3 2088 1343.5 2089.9 1332.6 2091.5C1321.7 2093.1 1306.8 2093.6 1295.3 2095.2C1283.8 2096.8 1274.9 2099.5 1263.3 2100.9C1251.7 2102.3 1238.2 2103.5 1225.7 2103.7C1213.2 2103.8 1200.6 2102.9 1188.1 2101.8C1175.6 2100.7 1163 2098.7 1150.5 2097.1C1138 2095.5 1125.3 2094 1112.8 2092.4C1100.2 2090.8 1087.7 2090 1075.2 2087.7C1062.7 2085.3 1048.9 2081.9 1037.6 2078.3C1026.3 2074.7 1012.5 2068.1 1007.5 2066.1" fill="none" stroke="#fbf4f2" stroke-width="1.6" stroke-dasharray="8.5 5.2"/>
<path d="M1453.9 1528.6C1454.7 1531.4 1457.5 1539.6 1458.6 1545.6C1459.7 1551.6 1461.1 1559.9 1460.5 1564.4C1459.9 1568.9 1457.4 1571.2 1454.9 1572.8C1452.4 1574.4 1448.3 1574.3 1445.5 1573.8C1442.7 1573.3 1439.2 1570.6 1437.9 1570" fill="none" stroke="#fbf4f2" stroke-width="1.6" stroke-dasharray="8.5 5.2"/>
<path d="M1517.9 1528.6C1519.3 1533.3 1523 1547.5 1526.3 1556.9C1529.6 1566.3 1533.2 1577.3 1537.6 1585.1C1542 1592.9 1547 1598.9 1552.7 1603.9C1558.4 1608.9 1565.5 1613 1571.5 1615.2C1577.5 1617.4 1586.1 1616.7 1589 1617" fill="none" stroke="#fbf4f2" stroke-width="1.6" stroke-dasharray="8.5 5.2"/>
<path d="M1589 1713C1585.5 1711.9 1574.4 1707.4 1567.7 1706.4C1561 1705.5 1554.5 1705.6 1548.9 1707.3C1543.3 1709 1538 1712.6 1533.9 1716.7C1529.8 1720.8 1526.7 1724.9 1524.5 1731.8C1522.3 1738.7 1521.5 1749 1520.7 1758.1C1519.9 1767.2 1519.8 1776.8 1519.8 1786.3C1519.8 1795.8 1520.2 1808.3 1520.7 1815C1521.2 1821.7 1522.3 1824.4 1522.6 1826.3" fill="none" stroke="#fbf4f2" stroke-width="1.6" stroke-dasharray="8.5 5.2"/>
<path d="M1522.6 1826.3C1525.4 1826.3 1532.9 1825.8 1539.5 1826.3C1546.1 1826.8 1555.2 1827.5 1562.1 1829.1C1569 1830.7 1576.4 1833.7 1580.9 1835.7C1585.4 1837.7 1587.9 1840.4 1589.3 1841.3" fill="none" stroke="#fbf4f2" stroke-width="1.6" stroke-dasharray="8.5 5.2"/>
<path d="M1589.3 1878.9C1586.7 1878.1 1579.2 1874.8 1573.4 1874.2C1567.6 1873.6 1560.8 1873.5 1554.5 1875.2C1548.2 1876.9 1541.7 1880.5 1535.7 1884.6C1529.8 1888.7 1523.2 1894.3 1518.8 1899.6C1514.4 1904.9 1510.7 1911.6 1509.4 1916.6C1508.2 1921.6 1509.4 1926.6 1511.3 1929.7C1513.2 1932.8 1514.4 1934.5 1520.7 1935.4C1527 1936.4 1538.6 1935.7 1548.9 1935.4C1559.2 1935.1 1577.2 1933.8 1582.8 1933.5" fill="none" stroke="#fbf4f2" stroke-width="1.6" stroke-dasharray="8.5 5.2"/>
<path d="M1007.5 1895.9C1010 1900.6 1017.6 1914.1 1022.6 1924.1C1027.6 1934.1 1033.5 1946.1 1037.6 1956.1C1041.7 1966.1 1044.7 1975.8 1047 1984.3C1049.3 1992.8 1051.4 2000.8 1051.7 2006.8C1052 2012.8 1050 2017 1048.9 2020C1047.8 2023 1045.7 2023.9 1045.1 2024.7" fill="none" stroke="#fbf4f2" stroke-width="1.6" stroke-dasharray="8.5 5.2"/>
<path d="M1007.5 1997.4C1008.8 1999.9 1013.9 2008.4 1015 2012.5C1016.1 2016.6 1015.4 2018.2 1014.1 2021.9C1012.9 2025.7 1008.6 2032.8 1007.5 2035" fill="none" stroke="#fbf4f2" stroke-width="1.6" stroke-dasharray="8.5 5.2"/>
<path d="M1471.8 2027.5C1469.9 2031.3 1464.9 2041.6 1460.5 2050.1C1456.1 2058.6 1450.5 2069.5 1445.5 2078.3C1440.5 2087.1 1433.9 2097.5 1430.4 2102.8C1427 2108.1 1425.7 2109.1 1424.8 2110.3" fill="none" stroke="#fbf4f2" stroke-width="1.6" stroke-dasharray="8.5 5.2"/>
<path d="M1464.3 2089.6 L1445.5 2104.6" fill="none" stroke="#fbf4f2" stroke-width="1.6" stroke-dasharray="8.5 5.2"/>
<path d="M1112.8 2097.1 L1120.4 2108.4" fill="none" stroke="#fbf4f2" stroke-width="1.6" stroke-dasharray="8.5 5.2"/>
<circle cx="1498.1" cy="2029.4" r="21.6" fill="none" stroke="#fbf4f2" stroke-width="1.6" stroke-dasharray="8.5 5.2"/>
<text x="1266.1" y="1758.1" fill="#fff" stroke="#fff" stroke-width="0.4" font-family="'Liberation Sans', sans-serif" font-size="37">AcbC</text>
<text x="1181.5" y="1839.5" fill="#fff" stroke="#fff" stroke-width="0.4" font-family="'Liberation Sans', sans-serif" font-size="37">aca</text>
<text x="1324.2" y="1939.1" fill="#fff" stroke="#fff" stroke-width="0.4" font-family="'Liberation Sans', sans-serif" font-size="37">AcbSh</text>
<path d="M1032.9 2082.1 H1246.4" stroke="#fff" stroke-width="5.3"/><path d="M1034.3 2068.9 V2095.2 M1245 2068.9 V2095.2" stroke="#fff" stroke-width="2.8"/>
</g>
<rect x="176.5" y="425.2" width="67.8" height="212.2" fill="#5b90cd" stroke="#000" stroke-width="2.8"/>
<rect x="283" y="419.4" width="67.8" height="218" fill="#65bc45" stroke="#000" stroke-width="2.8"/>
<rect x="459.3" y="425.5" width="68.4" height="211.9" fill="#5b90cd" stroke="#000" stroke-width="2.8"/>
<rect x="566.5" y="547.2" width="67.4" height="90.2" fill="#65bc45" stroke="#000" stroke-width="2.8"/>
<rect x="743.4" y="435.7" width="67.6" height="201.7" fill="#5b90cd" stroke="#000" stroke-width="2.8"/>
<rect x="849.5" y="440.6" width="67.9" height="196.8" fill="#65bc45" stroke="#000" stroke-width="2.8"/>
<path d="M210.4 425 V401.4 M192.9 401.4 H227.9" stroke="#000" stroke-width="4.8" fill="none"/>
<path d="M316.9 419.2 V391.4 M299.4 391.4 H334.4" stroke="#000" stroke-width="4.8" fill="none"/>
<path d="M493.5 425.3 V397 M476 397 H511" stroke="#000" stroke-width="4.8" fill="none"/>
<path d="M600.2 547 V505 M582.7 505 H617.7" stroke="#000" stroke-width="4.8" fill="none"/>
<path d="M777.2 435.5 V409.3 M759.7 409.3 H794.7" stroke="#000" stroke-width="4.8" fill="none"/>
<path d="M883.45 440.4 V412.7 M865.95 412.7 H900.95" stroke="#000" stroke-width="4.8" fill="none"/>
<path d="M139.6 90.1 V636.2 H958" stroke="#000" stroke-width="5.6" fill="none" stroke-linejoin="miter"/>
<path d="M123.4 636.2 H139.6" stroke="#000" stroke-width="5.6"/>
<text stroke="#000" stroke-width="0.5" x="117.1" y="651.7" text-anchor="end" font-family="'Liberation Sans', sans-serif" font-weight="700" font-size="41.5">0.0</text>
<path d="M123.4 500.38 H139.6" stroke="#000" stroke-width="5.6"/>
<text stroke="#000" stroke-width="0.5" x="117.1" y="515.88" text-anchor="end" font-family="'Liberation Sans', sans-serif" font-weight="700" font-size="41.5">0.5</text>
<path d="M123.4 364.55 H139.6" stroke="#000" stroke-width="5.6"/>
<text stroke="#000" stroke-width="0.5" x="117.1" y="380.05" text-anchor="end" font-family="'Liberation Sans', sans-serif" font-weight="700" font-size="41.5">1.0</text>
<path d="M123.4 228.73 H139.6" stroke="#000" stroke-width="5.6"/>
<text stroke="#000" stroke-width="0.5" x="117.1" y="244.23" text-anchor="end" font-family="'Liberation Sans', sans-serif" font-weight="700" font-size="41.5">1.5</text>
<path d="M123.4 92.9 H139.6" stroke="#000" stroke-width="5.6"/>
<text stroke="#000" stroke-width="0.5" x="117.1" y="108.4" text-anchor="end" font-family="'Liberation Sans', sans-serif" font-weight="700" font-size="41.5">2.0</text>
<path d="M263 636.2 V652.7" stroke="#000" stroke-width="5.6"/>
<text stroke="#000" stroke-width="0.5" x="263" y="695.5" text-anchor="middle" font-family="'Liberation Sans', sans-serif" font-weight="700" font-size="40.5">EGFP</text>
<path d="M546.7 636.2 V652.7" stroke="#000" stroke-width="5.6"/>
<text stroke="#000" stroke-width="0.5" x="546.7" y="695.5" text-anchor="middle" font-family="'Liberation Sans', sans-serif" font-weight="700" font-size="40.5">Gq</text>
<path d="M830 636.2 V652.7" stroke="#000" stroke-width="5.6"/>
<text stroke="#000" stroke-width="0.5" x="830" y="695.5" text-anchor="middle" font-family="'Liberation Sans', sans-serif" font-weight="700" font-size="40.5">Gi</text>
<path d="M210.6 276.5 L317.2 352.3" stroke="#000" stroke-width="2.45"/>
<path d="M210.6 372.6 L317.2 340" stroke="#000" stroke-width="2.45"/>
<path d="M210.6 402.7 L317.2 304.8" stroke="#000" stroke-width="2.45"/>
<path d="M210.6 416.4 L317.2 352.3" stroke="#000" stroke-width="2.45"/>
<path d="M210.6 416.4 L317.2 457" stroke="#000" stroke-width="2.45"/>
<path d="M210.6 426.4 L317.2 521" stroke="#000" stroke-width="2.45"/>
<path d="M210.6 439.6 L317.2 464" stroke="#000" stroke-width="2.45"/>
<path d="M210.6 462 L317.2 540.8" stroke="#000" stroke-width="2.45"/>
<path d="M210.6 492.1 L317.2 378.3" stroke="#000" stroke-width="2.45"/>
<path d="M210.6 531.7 L317.2 457" stroke="#000" stroke-width="2.45"/>
<circle cx="210.6" cy="276.5" r="5.4" fill="#fff" stroke="#000" stroke-width="2.4"/>
<circle cx="210.6" cy="372.6" r="5.4" fill="#fff" stroke="#000" stroke-width="2.4"/>
<circle cx="210.6" cy="402.7" r="5.4" fill="#fff" stroke="#000" stroke-width="2.4"/>
<circle cx="210.6" cy="416.4" r="5.4" fill="#fff" stroke="#000" stroke-width="2.4"/>
<circle cx="210.6" cy="426.4" r="5.4" fill="#fff" stroke="#000" stroke-width="2.4"/>
<circle cx="210.6" cy="439.6" r="5.4" fill="#fff" stroke="#000" stroke-width="2.4"/>
<circle cx="210.6" cy="462" r="5.4" fill="#fff" stroke="#000" stroke-width="2.4"/>
<circle cx="210.6" cy="492.1" r="5.4" fill="#fff" stroke="#000" stroke-width="2.4"/>
<circle cx="210.6" cy="531.7" r="5.4" fill="#fff" stroke="#000" stroke-width="2.4"/>
<circle cx="317.2" cy="304.8" r="5.4" fill="#fff" stroke="#000" stroke-width="2.4"/>
<circle cx="317.2" cy="340" r="5.4" fill="#fff" stroke="#000" stroke-width="2.4"/>
<circle cx="317.2" cy="352.3" r="5.4" fill="#fff" stroke="#000" stroke-width="2.4"/>
<circle cx="317.2" cy="378.3" r="5.4" fill="#fff" stroke="#000" stroke-width="2.4"/>
<circle cx="317.2" cy="457" r="5.4" fill="#fff" stroke="#000" stroke-width="2.4"/>
<circle cx="317.2" cy="464" r="5.4" fill="#fff" stroke="#000" stroke-width="2.4"/>
<circle cx="317.2" cy="521" r="5.4" fill="#fff" stroke="#000" stroke-width="2.4"/>
<circle cx="317.2" cy="540.8" r="5.4" fill="#fff" stroke="#000" stroke-width="2.4"/>
<path d="M494 220 L600 237.3" stroke="#000" stroke-width="2.45"/>
<path d="M494 370.6 L600 612" stroke="#000" stroke-width="2.45"/>
<path d="M494 397 L600 621.3" stroke="#000" stroke-width="2.45"/>
<path d="M494 406 L600 448.2" stroke="#000" stroke-width="2.45"/>
<path d="M494 412 L600 612" stroke="#000" stroke-width="2.45"/>
<path d="M494 451.5 L600 630.3" stroke="#000" stroke-width="2.45"/>
<path d="M494 459 L600 493.5" stroke="#000" stroke-width="2.45"/>
<path d="M494 459 L600 621.3" stroke="#000" stroke-width="2.45"/>
<path d="M494 492 L600 630.3" stroke="#000" stroke-width="2.45"/>
<path d="M494 513.7 L600 522.8" stroke="#000" stroke-width="2.45"/>
<path d="M494 513.7 L600 621.3" stroke="#000" stroke-width="2.45"/>
<circle cx="494" cy="220" r="5.4" fill="#fff" stroke="#000" stroke-width="2.4"/>
<circle cx="494" cy="370.6" r="5.4" fill="#fff" stroke="#000" stroke-width="2.4"/>
<circle cx="494" cy="397" r="5.4" fill="#fff" stroke="#000" stroke-width="2.4"/>
<circle cx="494" cy="406" r="5.4" fill="#fff" stroke="#000" stroke-width="2.4"/>
<circle cx="494" cy="412" r="5.4" fill="#fff" stroke="#000" stroke-width="2.4"/>
<circle cx="494" cy="451.5" r="5.4" fill="#fff" stroke="#000" stroke-width="2.4"/>
<circle cx="494" cy="459" r="5.4" fill="#fff" stroke="#000" stroke-width="2.4"/>
<circle cx="494" cy="492" r="5.4" fill="#fff" stroke="#000" stroke-width="2.4"/>
<circle cx="494" cy="513.7" r="5.4" fill="#fff" stroke="#000" stroke-width="2.4"/>
<circle cx="600" cy="237.3" r="5.4" fill="#fff" stroke="#000" stroke-width="2.4"/>
<circle cx="600" cy="448.2" r="5.4" fill="#fff" stroke="#000" stroke-width="2.4"/>
<circle cx="600" cy="493.5" r="5.4" fill="#fff" stroke="#000" stroke-width="2.4"/>
<circle cx="600" cy="522.8" r="5.4" fill="#fff" stroke="#000" stroke-width="2.4"/>
<circle cx="600" cy="612" r="5.4" fill="#fff" stroke="#000" stroke-width="2.4"/>
<circle cx="600" cy="621.3" r="5.4" fill="#fff" stroke="#000" stroke-width="2.4"/>
<circle cx="600" cy="630.3" r="5.4" fill="#fff" stroke="#000" stroke-width="2.4"/>
<path d="M777.3 304.7 L883.4 336" stroke="#000" stroke-width="2.45"/>
<path d="M777.3 320.9 L883.4 372.5" stroke="#000" stroke-width="2.45"/>
<path d="M777.3 406.3 L883.4 383" stroke="#000" stroke-width="2.45"/>
<path d="M777.3 428.9 L883.4 302.1" stroke="#000" stroke-width="2.45"/>
<path d="M777.3 423 L883.4 489.8" stroke="#000" stroke-width="2.45"/>
<path d="M777.3 428.9 L883.4 518.4" stroke="#000" stroke-width="2.45"/>
<path d="M777.3 449.6 L883.4 467.6" stroke="#000" stroke-width="2.45"/>
<path d="M777.3 515.4 L883.4 459.7" stroke="#000" stroke-width="2.45"/>
<path d="M777.3 515.4 L883.4 500.4" stroke="#000" stroke-width="2.45"/>
<path d="M777.3 525.6 L883.4 557.6" stroke="#000" stroke-width="2.45"/>
<circle cx="777.3" cy="304.7" r="5.4" fill="#fff" stroke="#000" stroke-width="2.4"/>
<circle cx="777.3" cy="320.9" r="5.4" fill="#fff" stroke="#000" stroke-width="2.4"/>
<circle cx="777.3" cy="406.3" r="5.4" fill="#fff" stroke="#000" stroke-width="2.4"/>
<circle cx="777.3" cy="423" r="5.4" fill="#fff" stroke="#000" stroke-width="2.4"/>
<circle cx="777.3" cy="428.9" r="5.4" fill="#fff" stroke="#000" stroke-width="2.4"/>
<circle cx="777.3" cy="449.6" r="5.4" fill="#fff" stroke="#000" stroke-width="2.4"/>
<circle cx="777.3" cy="515.4" r="5.4" fill="#fff" stroke="#000" stroke-width="2.4"/>
<circle cx="777.3" cy="525.6" r="5.4" fill="#fff" stroke="#000" stroke-width="2.4"/>
<circle cx="883.4" cy="302.1" r="5.4" fill="#fff" stroke="#000" stroke-width="2.4"/>
<circle cx="883.4" cy="336" r="5.4" fill="#fff" stroke="#000" stroke-width="2.4"/>
<circle cx="883.4" cy="372.5" r="5.4" fill="#fff" stroke="#000" stroke-width="2.4"/>
<circle cx="883.4" cy="383" r="5.4" fill="#fff" stroke="#000" stroke-width="2.4"/>
<circle cx="883.4" cy="459.7" r="5.4" fill="#fff" stroke="#000" stroke-width="2.4"/>
<circle cx="883.4" cy="467.6" r="5.4" fill="#fff" stroke="#000" stroke-width="2.4"/>
<circle cx="883.4" cy="489.8" r="5.4" fill="#fff" stroke="#000" stroke-width="2.4"/>
<circle cx="883.4" cy="500.4" r="5.4" fill="#fff" stroke="#000" stroke-width="2.4"/>
<circle cx="883.4" cy="518.4" r="5.4" fill="#fff" stroke="#000" stroke-width="2.4"/>
<circle cx="883.4" cy="557.6" r="5.4" fill="#fff" stroke="#000" stroke-width="2.4"/>
<path d="M493.3 161.3 V139.8 H596.4 V161.3" stroke="#000" stroke-width="5" fill="none"/>
<text stroke="#000" stroke-width="0.5" x="544.6" y="145.5" text-anchor="middle" font-family="'Liberation Sans', sans-serif" font-weight="700" font-size="59.5">**</text>
<rect x="770.3" y="93.8" width="55.1" height="26.3" fill="#5b90cd" stroke="#000" stroke-width="3.2"/>
<rect x="770.3" y="167.6" width="55.1" height="26" fill="#65bc45" stroke="#000" stroke-width="3.2"/>
<text stroke="#000" stroke-width="0.5" x="860.5" y="122" font-family="'Liberation Sans', sans-serif" font-size="45.6">BL</text>
<text stroke="#000" stroke-width="0.5" x="860.5" y="195.7" font-family="'Liberation Sans', sans-serif" font-size="45.6">CNO</text>
<text stroke="#000" stroke-width="0.5" transform="translate(37.3 363.6) rotate(-90)" text-anchor="middle" font-family="'Liberation Sans', sans-serif" font-weight="700" font-size="45.3">Alcohol Intake (g/kg)</text>
<text stroke="#000" stroke-width="0.5" x="153.3" y="66.2" font-family="'Liberation Sans', sans-serif" font-size="82.6">AI</text>
<text stroke="#000" stroke-width="0.5" x="26.3" y="38.4" font-family="'Liberation Sans', sans-serif" font-weight="700" font-size="36.8">A</text>
<rect x="182.7" y="1201.6" width="67.3" height="147.9" fill="#5b90cd" stroke="#000" stroke-width="2.8"/>
<rect x="287.7" y="1192.2" width="66.8" height="157.3" fill="#65bc45" stroke="#000" stroke-width="2.8"/>
<rect x="462.3" y="1173.3" width="66.5" height="176.2" fill="#5b90cd" stroke="#000" stroke-width="2.8"/>
<rect x="568.4" y="1268.2" width="66.5" height="81.3" fill="#65bc45" stroke="#000" stroke-width="2.8"/>
<rect x="743.4" y="1153.4" width="66.8" height="196.1" fill="#5b90cd" stroke="#000" stroke-width="2.8"/>
<rect x="848.7" y="1137.6" width="65.7" height="211.9" fill="#65bc45" stroke="#000" stroke-width="2.8"/>
<path d="M216.35 1201.4 V1186.5 M198.85 1186.5 H233.85" stroke="#000" stroke-width="4.8" fill="none"/>
<path d="M321.1 1192 V1171.5 M303.6 1171.5 H338.6" stroke="#000" stroke-width="4.8" fill="none"/>
<path d="M495.55 1173.1 V1155.7 M478.05 1155.7 H513.05" stroke="#000" stroke-width="4.8" fill="none"/>
<path d="M601.65 1268 V1243.7 M584.15 1243.7 H619.15" stroke="#000" stroke-width="4.8" fill="none"/>
<path d="M776.8 1153.2 V1128.2 M759.3 1128.2 H794.3" stroke="#000" stroke-width="4.8" fill="none"/>
<path d="M881.55 1137.4 V1122.6 M864.05 1122.6 H899.05" stroke="#000" stroke-width="4.8" fill="none"/>
<path d="M146.3 807.2 V1348.3 H958" stroke="#000" stroke-width="5.6" fill="none" stroke-linejoin="miter"/>
<path d="M123.4 1348.3 H146.3" stroke="#000" stroke-width="5.6"/>
<text stroke="#000" stroke-width="0.5" x="117.6" y="1363.8" text-anchor="end" font-family="'Liberation Sans', sans-serif" font-weight="700" font-size="41.5">0.0</text>
<path d="M123.4 1213.72 H146.3" stroke="#000" stroke-width="5.6"/>
<text stroke="#000" stroke-width="0.5" x="117.6" y="1229.22" text-anchor="end" font-family="'Liberation Sans', sans-serif" font-weight="700" font-size="41.5">0.5</text>
<path d="M123.4 1079.15 H146.3" stroke="#000" stroke-width="5.6"/>
<text stroke="#000" stroke-width="0.5" x="117.6" y="1094.65" text-anchor="end" font-family="'Liberation Sans', sans-serif" font-weight="700" font-size="41.5">1.0</text>
<path d="M123.4 944.58 H146.3" stroke="#000" stroke-width="5.6"/>
<text stroke="#000" stroke-width="0.5" x="117.6" y="960.08" text-anchor="end" font-family="'Liberation Sans', sans-serif" font-weight="700" font-size="41.5">1.5</text>
<path d="M123.4 810 H146.3" stroke="#000" stroke-width="5.6"/>
<text stroke="#000" stroke-width="0.5" x="117.6" y="825.5" text-anchor="end" font-family="'Liberation Sans', sans-serif" font-weight="700" font-size="41.5">2.0</text>
<path d="M271.6 1348.3 V1364.8" stroke="#000" stroke-width="5.6"/>
<text stroke="#000" stroke-width="0.5" x="268.3" y="1414" text-anchor="middle" font-family="'Liberation Sans', sans-serif" font-weight="700" font-size="40.5">EGPF</text>
<path d="M550.5 1348.3 V1364.8" stroke="#000" stroke-width="5.6"/>
<text stroke="#000" stroke-width="0.5" x="549" y="1414" text-anchor="middle" font-family="'Liberation Sans', sans-serif" font-weight="700" font-size="40.5">Gq</text>
<path d="M830.8 1348.3 V1364.8" stroke="#000" stroke-width="5.6"/>
<text stroke="#000" stroke-width="0.5" x="828.8" y="1414" text-anchor="middle" font-family="'Liberation Sans', sans-serif" font-weight="700" font-size="40.5">Gi</text>
<path d="M216.3 1165 L321.7 1078.2" stroke="#000" stroke-width="2.45"/>
<path d="M216.3 1165 L321.7 1127.4" stroke="#000" stroke-width="2.45"/>
<path d="M216.3 1169.6 L321.7 1182.8" stroke="#000" stroke-width="2.45"/>
<path d="M216.3 1183.5 L321.7 1182.8" stroke="#000" stroke-width="2.45"/>
<path d="M216.3 1194 L321.7 1197" stroke="#000" stroke-width="2.45"/>
<path d="M216.3 1194 L321.7 1238.4" stroke="#000" stroke-width="2.45"/>
<path d="M216.3 1206 L321.7 1249.3" stroke="#000" stroke-width="2.45"/>
<path d="M216.3 1251.2 L321.7 1229.8" stroke="#000" stroke-width="2.45"/>
<path d="M216.3 1283.2 L321.7 1238.4" stroke="#000" stroke-width="2.45"/>
<circle cx="216.3" cy="1165" r="5.4" fill="#fff" stroke="#000" stroke-width="2.4"/>
<circle cx="216.3" cy="1169.6" r="5.4" fill="#fff" stroke="#000" stroke-width="2.4"/>
<circle cx="216.3" cy="1183.5" r="5.4" fill="#fff" stroke="#000" stroke-width="2.4"/>
<circle cx="216.3" cy="1194" r="5.4" fill="#fff" stroke="#000" stroke-width="2.4"/>
<circle cx="216.3" cy="1206" r="5.4" fill="#fff" stroke="#000" stroke-width="2.4"/>
<circle cx="216.3" cy="1251.2" r="5.4" fill="#fff" stroke="#000" stroke-width="2.4"/>
<circle cx="216.3" cy="1283.2" r="5.4" fill="#fff" stroke="#000" stroke-width="2.4"/>
<circle cx="321.7" cy="1078.2" r="5.4" fill="#fff" stroke="#000" stroke-width="2.4"/>
<circle cx="321.7" cy="1127.4" r="5.4" fill="#fff" stroke="#000" stroke-width="2.4"/>
<circle cx="321.7" cy="1182.8" r="5.4" fill="#fff" stroke="#000" stroke-width="2.4"/>
<circle cx="321.7" cy="1197" r="5.4" fill="#fff" stroke="#000" stroke-width="2.4"/>
<circle cx="321.7" cy="1229.8" r="5.4" fill="#fff" stroke="#000" stroke-width="2.4"/>
<circle cx="321.7" cy="1238.4" r="5.4" fill="#fff" stroke="#000" stroke-width="2.4"/>
<circle cx="321.7" cy="1249.3" r="5.4" fill="#fff" stroke="#000" stroke-width="2.4"/>
<path d="M496.4 1072.5 L602 1336.3" stroke="#000" stroke-width="2.45"/>
<path d="M496.4 1118 L602 1194.8" stroke="#000" stroke-width="2.45"/>
<path d="M496.4 1144.4 L602 1323" stroke="#000" stroke-width="2.45"/>
<path d="M496.4 1179.7 L602 1164" stroke="#000" stroke-width="2.45"/>
<path d="M496.4 1179.7 L602 1191.4" stroke="#000" stroke-width="2.45"/>
<path d="M496.4 1186.5 L602 1329.5" stroke="#000" stroke-width="2.45"/>
<path d="M496.4 1203.4 L602 1191.4" stroke="#000" stroke-width="2.45"/>
<path d="M496.4 1203.4 L602 1301.3" stroke="#000" stroke-width="2.45"/>
<path d="M496.4 1212 L602 1329.5" stroke="#000" stroke-width="2.45"/>
<path d="M496.4 1244 L602 1323" stroke="#000" stroke-width="2.45"/>
<circle cx="496.4" cy="1072.5" r="5.4" fill="#fff" stroke="#000" stroke-width="2.4"/>
<circle cx="496.4" cy="1118" r="5.4" fill="#fff" stroke="#000" stroke-width="2.4"/>
<circle cx="496.4" cy="1144.4" r="5.4" fill="#fff" stroke="#000" stroke-width="2.4"/>
<circle cx="496.4" cy="1179.7" r="5.4" fill="#fff" stroke="#000" stroke-width="2.4"/>
<circle cx="496.4" cy="1186.5" r="5.4" fill="#fff" stroke="#000" stroke-width="2.4"/>
<circle cx="496.4" cy="1203.4" r="5.4" fill="#fff" stroke="#000" stroke-width="2.4"/>
<circle cx="496.4" cy="1212" r="5.4" fill="#fff" stroke="#000" stroke-width="2.4"/>
<circle cx="496.4" cy="1244" r="5.4" fill="#fff" stroke="#000" stroke-width="2.4"/>
<circle cx="602" cy="1164" r="5.4" fill="#fff" stroke="#000" stroke-width="2.4"/>
<circle cx="602" cy="1191.4" r="5.4" fill="#fff" stroke="#000" stroke-width="2.4"/>
<circle cx="602" cy="1194.8" r="5.4" fill="#fff" stroke="#000" stroke-width="2.4"/>
<circle cx="602" cy="1301.3" r="5.4" fill="#fff" stroke="#000" stroke-width="2.4"/>
<circle cx="602" cy="1323" r="5.4" fill="#fff" stroke="#000" stroke-width="2.4"/>
<circle cx="602" cy="1329.5" r="5.4" fill="#fff" stroke="#000" stroke-width="2.4"/>
<circle cx="602" cy="1336.3" r="5.4" fill="#fff" stroke="#000" stroke-width="2.4"/>
<path d="M777.4 1013.5 L881.6 1068" stroke="#000" stroke-width="2.45"/>
<path d="M777.4 1113 L881.6 1062.4" stroke="#000" stroke-width="2.45"/>
<path d="M777.4 1113 L881.6 1145" stroke="#000" stroke-width="2.45"/>
<path d="M777.4 1135.7 L881.6 1160" stroke="#000" stroke-width="2.45"/>
<path d="M777.4 1154.5 L881.6 1140" stroke="#000" stroke-width="2.45"/>
<path d="M777.4 1200.4 L881.6 1150" stroke="#000" stroke-width="2.45"/>
<path d="M777.4 1200.4 L881.6 1160" stroke="#000" stroke-width="2.45"/>
<path d="M777.4 1216.6 L881.6 1160" stroke="#000" stroke-width="2.45"/>
<path d="M777.4 1221 L881.6 1169.6" stroke="#000" stroke-width="2.45"/>
<circle cx="777.4" cy="1013.5" r="5.4" fill="#fff" stroke="#000" stroke-width="2.4"/>
<circle cx="777.4" cy="1110" r="5.4" fill="#fff" stroke="#000" stroke-width="2.4"/>
<circle cx="777.4" cy="1118" r="5.4" fill="#fff" stroke="#000" stroke-width="2.4"/>
<circle cx="777.4" cy="1135.7" r="5.4" fill="#fff" stroke="#000" stroke-width="2.4"/>
<circle cx="777.4" cy="1154.5" r="5.4" fill="#fff" stroke="#000" stroke-width="2.4"/>
<circle cx="777.4" cy="1200.4" r="5.4" fill="#fff" stroke="#000" stroke-width="2.4"/>
<circle cx="777.4" cy="1216.6" r="5.4" fill="#fff" stroke="#000" stroke-width="2.4"/>
<circle cx="777.4" cy="1221" r="5.4" fill="#fff" stroke="#000" stroke-width="2.4"/>
<circle cx="881.6" cy="1062.4" r="5.4" fill="#fff" stroke="#000" stroke-width="2.4"/>
<circle cx="881.6" cy="1074.8" r="5.4" fill="#fff" stroke="#000" stroke-width="2.4"/>
<circle cx="881.6" cy="1136.9" r="5.4" fill="#fff" stroke="#000" stroke-width="2.4"/>
<circle cx="881.6" cy="1145" r="5.4" fill="#fff" stroke="#000" stroke-width="2.4"/>
<circle cx="881.6" cy="1160" r="5.4" fill="#fff" stroke="#000" stroke-width="2.4"/>
<circle cx="881.6" cy="1169.6" r="5.4" fill="#fff" stroke="#000" stroke-width="2.4"/>
<path d="M497 1043.5 V1021.4 H598.4 V1043.5" stroke="#000" stroke-width="5" fill="none"/>
<text stroke="#000" stroke-width="0.5" x="545.3" y="1030.8" text-anchor="middle" font-family="'Liberation Sans', sans-serif" font-weight="700" font-size="59.5">**</text>
<rect x="769.8" y="811" width="54.8" height="26.4" fill="#5b90cd" stroke="#000" stroke-width="3.2"/>
<rect x="769.8" y="883.8" width="54.8" height="26.1" fill="#65bc45" stroke="#000" stroke-width="3.2"/>
<text stroke="#000" stroke-width="0.5" x="857.7" y="839" font-family="'Liberation Sans', sans-serif" font-size="45.2">BL</text>
<text stroke="#000" stroke-width="0.5" x="857.7" y="911.8" font-family="'Liberation Sans', sans-serif" font-size="45.2">CNO</text>
<text stroke="#000" stroke-width="0.5" transform="translate(37.5 1078) rotate(-90)" text-anchor="middle" font-family="'Liberation Sans', sans-serif" font-weight="700" font-size="45.3">Alcohol Intake (g/kg)</text>
<text stroke="#000" stroke-width="0.5" x="148.8" y="784.6" font-family="'Liberation Sans', sans-serif" font-size="82.6">AMY</text>
<text stroke="#000" stroke-width="0.5" x="14.3" y="759.1" font-family="'Liberation Sans', sans-serif" font-weight="700" font-size="36.8">B</text>
<rect x="176.7" y="1936.5" width="67.8" height="129.2" fill="#5b90cd" stroke="#000" stroke-width="2.8"/>
<rect x="283" y="1932.7" width="67.9" height="133" fill="#65bc45" stroke="#000" stroke-width="2.8"/>
<rect x="459.3" y="1926.2" width="68.4" height="139.5" fill="#5b90cd" stroke="#000" stroke-width="2.8"/>
<rect x="566.5" y="1843.4" width="68.5" height="222.3" fill="#65bc45" stroke="#000" stroke-width="2.8"/>
<rect x="743.4" y="1928.9" width="67.6" height="136.8" fill="#5b90cd" stroke="#000" stroke-width="2.8"/>
<rect x="848.7" y="1979.6" width="68.7" height="86.1" fill="#65bc45" stroke="#000" stroke-width="2.8"/>
<path d="M210.6 1936.3 V1921.9 M193.1 1921.9 H228.1" stroke="#000" stroke-width="4.8" fill="none"/>
<path d="M316.95 1932.5 V1917.2 M299.45 1917.2 H334.45" stroke="#000" stroke-width="4.8" fill="none"/>
<path d="M493.5 1926 V1908 M476 1908 H511" stroke="#000" stroke-width="4.8" fill="none"/>
<path d="M600.75 1843.2 V1812 M583.25 1812 H618.25" stroke="#000" stroke-width="4.8" fill="none"/>
<path d="M777.2 1928.7 V1911 M759.7 1911 H794.7" stroke="#000" stroke-width="4.8" fill="none"/>
<path d="M883.05 1979.4 V1966.3 M865.55 1966.3 H900.55" stroke="#000" stroke-width="4.8" fill="none"/>
<path d="M140.3 1517.6 V2064.5 H958" stroke="#000" stroke-width="5.6" fill="none" stroke-linejoin="miter"/>
<path d="M123.4 2064.5 H140.3" stroke="#000" stroke-width="5.6"/>
<text stroke="#000" stroke-width="0.5" x="117.6" y="2080" text-anchor="end" font-family="'Liberation Sans', sans-serif" font-weight="700" font-size="41.5">0</text>
<path d="M123.4 1928.47 H140.3" stroke="#000" stroke-width="5.6"/>
<text stroke="#000" stroke-width="0.5" x="117.6" y="1943.97" text-anchor="end" font-family="'Liberation Sans', sans-serif" font-weight="700" font-size="41.5">1</text>
<path d="M123.4 1792.45 H140.3" stroke="#000" stroke-width="5.6"/>
<text stroke="#000" stroke-width="0.5" x="117.6" y="1807.95" text-anchor="end" font-family="'Liberation Sans', sans-serif" font-weight="700" font-size="41.5">2</text>
<path d="M123.4 1656.43 H140.3" stroke="#000" stroke-width="5.6"/>
<text stroke="#000" stroke-width="0.5" x="117.6" y="1671.93" text-anchor="end" font-family="'Liberation Sans', sans-serif" font-weight="700" font-size="41.5">3</text>
<path d="M123.4 1520.4 H140.3" stroke="#000" stroke-width="5.6"/>
<text stroke="#000" stroke-width="0.5" x="117.6" y="1535.9" text-anchor="end" font-family="'Liberation Sans', sans-serif" font-weight="700" font-size="41.5">4</text>
<path d="M263.4 2064.5 V2081" stroke="#000" stroke-width="5.6"/>
<text stroke="#000" stroke-width="0.5" x="263.4" y="2123.4" text-anchor="middle" font-family="'Liberation Sans', sans-serif" font-weight="700" font-size="40.5">EGFP</text>
<path d="M546.7 2064.5 V2081" stroke="#000" stroke-width="5.6"/>
<text stroke="#000" stroke-width="0.5" x="546.7" y="2123.4" text-anchor="middle" font-family="'Liberation Sans', sans-serif" font-weight="700" font-size="40.5">Gq</text>
<path d="M828.9 2064.5 V2081" stroke="#000" stroke-width="5.6"/>
<text stroke="#000" stroke-width="0.5" x="830.4" y="2123.4" text-anchor="middle" font-family="'Liberation Sans', sans-serif" font-weight="700" font-size="40.5">Gi</text>
<path d="M210.7 1884.6 L317.3 1944.9" stroke="#000" stroke-width="2.45"/>
<path d="M210.7 1897.4 L317.3 1923.5" stroke="#000" stroke-width="2.45"/>
<path d="M210.7 1906 L317.3 1916.6" stroke="#000" stroke-width="2.45"/>
<path d="M210.7 1926.2 L317.3 1902.2" stroke="#000" stroke-width="2.45"/>
<path d="M210.7 1934.2 L317.3 1890.5" stroke="#000" stroke-width="2.45"/>
<path d="M210.7 1940.5 L317.3 1871.3" stroke="#000" stroke-width="2.45"/>
<path d="M210.7 1942 L317.3 1956.6" stroke="#000" stroke-width="2.45"/>
<path d="M210.7 1984.8 L317.3 1971.5" stroke="#000" stroke-width="2.45"/>
<path d="M210.7 1993.4 L317.3 2003.5" stroke="#000" stroke-width="2.45"/>
<circle cx="210.7" cy="1884.6" r="5.4" fill="#fff" stroke="#000" stroke-width="2.4"/>
<circle cx="210.7" cy="1897.4" r="5.4" fill="#fff" stroke="#000" stroke-width="2.4"/>
<circle cx="210.7" cy="1906" r="5.4" fill="#fff" stroke="#000" stroke-width="2.4"/>
<circle cx="210.7" cy="1926.2" r="5.4" fill="#fff" stroke="#000" stroke-width="2.4"/>
<circle cx="210.7" cy="1934.2" r="5.4" fill="#fff" stroke="#000" stroke-width="2.4"/>
<circle cx="210.7" cy="1940.5" r="5.4" fill="#fff" stroke="#000" stroke-width="2.4"/>
<circle cx="210.7" cy="1942" r="5.4" fill="#fff" stroke="#000" stroke-width="2.4"/>
<circle cx="210.7" cy="1984.8" r="5.4" fill="#fff" stroke="#000" stroke-width="2.4"/>
<circle cx="210.7" cy="1993.4" r="5.4" fill="#fff" stroke="#000" stroke-width="2.4"/>
<circle cx="317.3" cy="1871.3" r="5.4" fill="#fff" stroke="#000" stroke-width="2.4"/>
<circle cx="317.3" cy="1890.5" r="5.4" fill="#fff" stroke="#000" stroke-width="2.4"/>
<circle cx="317.3" cy="1902.2" r="5.4" fill="#fff" stroke="#000" stroke-width="2.4"/>
<circle cx="317.3" cy="1916.6" r="5.4" fill="#fff" stroke="#000" stroke-width="2.4"/>
<circle cx="317.3" cy="1923.5" r="5.4" fill="#fff" stroke="#000" stroke-width="2.4"/>
<circle cx="317.3" cy="1944.9" r="5.4" fill="#fff" stroke="#000" stroke-width="2.4"/>
<circle cx="317.3" cy="1956.6" r="5.4" fill="#fff" stroke="#000" stroke-width="2.4"/>
<circle cx="317.3" cy="1971.5" r="5.4" fill="#fff" stroke="#000" stroke-width="2.4"/>
<circle cx="317.3" cy="2003.5" r="5.4" fill="#fff" stroke="#000" stroke-width="2.4"/>
<path d="M494 1826.3 L600.5 1817" stroke="#000" stroke-width="2.45"/>
<path d="M494 1882 L600.5 1692" stroke="#000" stroke-width="2.45"/>
<path d="M494 1894.8 L600.5 1951.2" stroke="#000" stroke-width="2.45"/>
<path d="M494 1902.7 L600.5 1817" stroke="#000" stroke-width="2.45"/>
<path d="M494 1902.7 L600.5 1860.2" stroke="#000" stroke-width="2.45"/>
<path d="M494 1918.5 L600.5 1869.6" stroke="#000" stroke-width="2.45"/>
<path d="M494 1967.4 L600.5 1642.7" stroke="#000" stroke-width="2.45"/>
<path d="M494 1967.4 L600.5 1851.9" stroke="#000" stroke-width="2.45"/>
<path d="M494 1996.4 L600.5 1980.6" stroke="#000" stroke-width="2.45"/>
<path d="M494 2013.3 L600.5 1919.2" stroke="#000" stroke-width="2.45"/>
<circle cx="494" cy="1826.3" r="5.4" fill="#fff" stroke="#000" stroke-width="2.4"/>
<circle cx="494" cy="1882" r="5.4" fill="#fff" stroke="#000" stroke-width="2.4"/>
<circle cx="494" cy="1894.8" r="5.4" fill="#fff" stroke="#000" stroke-width="2.4"/>
<circle cx="494" cy="1902.7" r="5.4" fill="#fff" stroke="#000" stroke-width="2.4"/>
<circle cx="494" cy="1918.5" r="5.4" fill="#fff" stroke="#000" stroke-width="2.4"/>
<circle cx="494" cy="1967.4" r="5.4" fill="#fff" stroke="#000" stroke-width="2.4"/>
<circle cx="494" cy="1996.4" r="5.4" fill="#fff" stroke="#000" stroke-width="2.4"/>
<circle cx="494" cy="2013.3" r="5.4" fill="#fff" stroke="#000" stroke-width="2.4"/>
<circle cx="600.5" cy="1642.7" r="5.4" fill="#fff" stroke="#000" stroke-width="2.4"/>
<circle cx="600.5" cy="1692" r="5.4" fill="#fff" stroke="#000" stroke-width="2.4"/>
<circle cx="600.5" cy="1817" r="5.4" fill="#fff" stroke="#000" stroke-width="2.4"/>
<circle cx="600.5" cy="1851.9" r="5.4" fill="#fff" stroke="#000" stroke-width="2.4"/>
<circle cx="600.5" cy="1860.2" r="5.4" fill="#fff" stroke="#000" stroke-width="2.4"/>
<circle cx="600.5" cy="1869.6" r="5.4" fill="#fff" stroke="#000" stroke-width="2.4"/>
<circle cx="600.5" cy="1919.2" r="5.4" fill="#fff" stroke="#000" stroke-width="2.4"/>
<circle cx="600.5" cy="1951.2" r="5.4" fill="#fff" stroke="#000" stroke-width="2.4"/>
<circle cx="600.5" cy="1980.6" r="5.4" fill="#fff" stroke="#000" stroke-width="2.4"/>
<path d="M778 1828.2 L883.4 1971.2" stroke="#000" stroke-width="2.45"/>
<path d="M778 1879.7 L883.4 1971.2" stroke="#000" stroke-width="2.45"/>
<path d="M778 1885.4 L883.4 1988.8" stroke="#000" stroke-width="2.45"/>
<path d="M778 1897 L883.4 1924" stroke="#000" stroke-width="2.45"/>
<path d="M778 1932.4 L883.4 1928.6" stroke="#000" stroke-width="2.45"/>
<path d="M778 1944.8 L883.4 2043.4" stroke="#000" stroke-width="2.45"/>
<path d="M778 1960.6 L883.4 1967.4" stroke="#000" stroke-width="2.45"/>
<path d="M778 1970 L883.4 1971.2" stroke="#000" stroke-width="2.45"/>
<path d="M778 1990 L883.4 1997.5" stroke="#000" stroke-width="2.45"/>
<path d="M778 1992.6 L883.4 2011.8" stroke="#000" stroke-width="2.45"/>
<circle cx="778" cy="1828.2" r="5.4" fill="#fff" stroke="#000" stroke-width="2.4"/>
<circle cx="778" cy="1879.7" r="5.4" fill="#fff" stroke="#000" stroke-width="2.4"/>
<circle cx="778" cy="1885.4" r="5.4" fill="#fff" stroke="#000" stroke-width="2.4"/>
<circle cx="778" cy="1897" r="5.4" fill="#fff" stroke="#000" stroke-width="2.4"/>
<circle cx="778" cy="1932.4" r="5.4" fill="#fff" stroke="#000" stroke-width="2.4"/>
<circle cx="778" cy="1944.8" r="5.4" fill="#fff" stroke="#000" stroke-width="2.4"/>
<circle cx="778" cy="1960.6" r="5.4" fill="#fff" stroke="#000" stroke-width="2.4"/>
<circle cx="778" cy="1970" r="5.4" fill="#fff" stroke="#000" stroke-width="2.4"/>
<circle cx="778" cy="1990" r="5.4" fill="#fff" stroke="#000" stroke-width="2.4"/>
<circle cx="778" cy="1992.6" r="5.4" fill="#fff" stroke="#000" stroke-width="2.4"/>
<circle cx="883.4" cy="1924" r="5.4" fill="#fff" stroke="#000" stroke-width="2.4"/>
<circle cx="883.4" cy="1928.6" r="5.4" fill="#fff" stroke="#000" stroke-width="2.4"/>
<circle cx="883.4" cy="1967.4" r="5.4" fill="#fff" stroke="#000" stroke-width="2.4"/>
<circle cx="883.4" cy="1971.2" r="5.4" fill="#fff" stroke="#000" stroke-width="2.4"/>
<circle cx="883.4" cy="1988.8" r="5.4" fill="#fff" stroke="#000" stroke-width="2.4"/>
<circle cx="883.4" cy="1997.5" r="5.4" fill="#fff" stroke="#000" stroke-width="2.4"/>
<circle cx="883.4" cy="2011.8" r="5.4" fill="#fff" stroke="#000" stroke-width="2.4"/>
<circle cx="883.4" cy="2043.4" r="5.4" fill="#fff" stroke="#000" stroke-width="2.4"/>
<path d="M493.3 1614.8 V1592.2 H601.4 V1614.8" stroke="#000" stroke-width="5" fill="none"/>
<text stroke="#000" stroke-width="0.5" x="546.7" y="1597.5" text-anchor="middle" font-family="'Liberation Sans', sans-serif" font-weight="700" font-size="56">*</text>
<path d="M776.2 1801 V1778.7 H882.9 V1801" stroke="#000" stroke-width="5" fill="none"/>
<text stroke="#000" stroke-width="0.5" x="830.5" y="1787" text-anchor="middle" font-family="'Liberation Sans', sans-serif" font-weight="700" font-size="56">*</text>
<rect x="770.3" y="1522.5" width="55.1" height="26.4" fill="#5b90cd" stroke="#000" stroke-width="3.2"/>
<rect x="770.3" y="1596.6" width="55.1" height="25.5" fill="#65bc45" stroke="#000" stroke-width="3.2"/>
<text stroke="#000" stroke-width="0.5" x="860" y="1550.8" font-family="'Liberation Sans', sans-serif" font-size="45.6">BL</text>
<text stroke="#000" stroke-width="0.5" x="860" y="1624.8" font-family="'Liberation Sans', sans-serif" font-size="45.6">CNO</text>
<text stroke="#000" stroke-width="0.5" transform="translate(37.5 1792) rotate(-90)" text-anchor="middle" font-family="'Liberation Sans', sans-serif" font-weight="700" font-size="45.3">Alcohol Intake (g/kg)</text>
<text stroke="#000" stroke-width="0.5" x="153.3" y="1497" font-family="'Liberation Sans', sans-serif" font-size="82.6">Acb</text>
<text stroke="#000" stroke-width="0.5" x="13.6" y="1471.5" font-family="'Liberation Sans', sans-serif" font-weight="700" font-size="36.8">C</text>
</svg>
</body></html>
